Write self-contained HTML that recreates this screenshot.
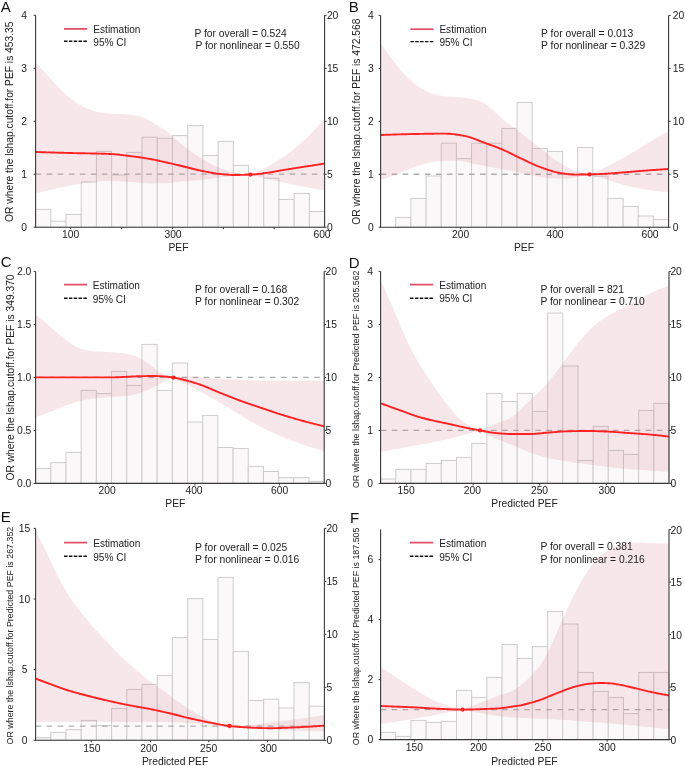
<!DOCTYPE html>
<html><head><meta charset="utf-8"><style>
html,body{margin:0;padding:0;background:#fff;}
svg{display:block;font-family:"Liberation Sans", sans-serif;filter:blur(0.4px);}
</style></head><body>
<svg width="685" height="766" viewBox="0 0 685 766">
<rect width="685" height="766" fill="#fff"/>
<g fill="#fbf8f9" stroke="#cdcdcd" stroke-width="1"><rect x="35.60" y="209.40" width="15.21" height="17.80"/><rect x="50.81" y="221.20" width="15.21" height="6.00"/><rect x="66.02" y="214.40" width="15.21" height="12.80"/><rect x="81.23" y="182.00" width="15.21" height="45.20"/><rect x="96.44" y="151.40" width="15.21" height="75.80"/><rect x="111.65" y="175.00" width="15.21" height="52.20"/><rect x="126.86" y="152.40" width="15.21" height="74.80"/><rect x="142.07" y="137.20" width="15.21" height="90.00"/><rect x="157.28" y="138.30" width="15.21" height="88.90"/><rect x="172.49" y="135.60" width="15.21" height="91.60"/><rect x="187.71" y="125.60" width="15.21" height="101.60"/><rect x="202.92" y="155.40" width="15.21" height="71.80"/><rect x="218.13" y="141.40" width="15.21" height="85.80"/><rect x="233.34" y="165.40" width="15.21" height="61.80"/><rect x="248.55" y="174.80" width="15.21" height="52.40"/><rect x="263.76" y="178.20" width="15.21" height="49.00"/><rect x="278.97" y="199.40" width="15.21" height="27.80"/><rect x="294.18" y="193.40" width="15.21" height="33.80"/><rect x="309.39" y="211.50" width="15.21" height="15.70"/></g>
<line x1="35.60" y1="174.22" x2="324.60" y2="174.22" stroke="#adadad" stroke-width="1.3" stroke-dasharray="5.6 5.45" stroke-dashoffset="0.00"/>
<path d="M35.60,62.40L36.60,63.47L37.60,64.55L38.60,65.63L39.60,66.70L40.60,67.78L41.59,68.86L42.59,69.94L43.59,71.03L44.59,72.11L45.59,73.20L46.59,74.28L47.59,75.37L48.59,76.46L49.59,77.56L50.59,78.66L51.59,79.77L52.58,80.89L53.58,82.02L54.58,83.15L55.58,84.27L56.58,85.37L57.58,86.46L58.58,87.51L59.58,88.54L60.58,89.54L61.58,90.52L62.57,91.48L63.57,92.42L64.57,93.34L65.57,94.24L66.57,95.13L67.57,95.98L68.57,96.82L69.57,97.63L70.57,98.43L71.57,99.21L72.57,99.97L73.56,100.72L74.56,101.45L75.56,102.16L76.56,102.84L77.56,103.50L78.56,104.12L79.56,104.72L80.56,105.28L81.56,105.82L82.56,106.34L83.56,106.85L84.55,107.33L85.55,107.79L86.55,108.23L87.55,108.65L88.55,109.04L89.55,109.42L90.55,109.78L91.55,110.12L92.55,110.45L93.55,110.77L94.55,111.07L95.54,111.36L96.54,111.63L97.54,111.87L98.54,112.09L99.54,112.29L100.54,112.47L101.54,112.64L102.54,112.79L103.54,112.93L104.54,113.06L105.53,113.19L106.53,113.30L107.53,113.40L108.53,113.48L109.53,113.56L110.53,113.62L111.53,113.67L112.53,113.72L113.53,113.76L114.53,113.80L115.53,113.83L116.52,113.87L117.52,113.90L118.52,113.94L119.52,113.98L120.52,114.03L121.52,114.07L122.52,114.12L123.52,114.17L124.52,114.22L125.52,114.28L126.52,114.34L127.51,114.41L128.51,114.48L129.51,114.57L130.51,114.68L131.51,114.80L132.51,114.94L133.51,115.11L134.51,115.29L135.51,115.50L136.51,115.72L137.51,115.96L138.50,116.22L139.50,116.49L140.50,116.79L141.50,117.11L142.50,117.48L143.50,117.88L144.50,118.31L145.50,118.77L146.50,119.24L147.50,119.74L148.49,120.24L149.49,120.75L150.49,121.28L151.49,121.82L152.49,122.38L153.49,122.96L154.49,123.56L155.49,124.17L156.49,124.79L157.49,125.42L158.49,126.05L159.48,126.67L160.48,127.29L161.48,127.91L162.48,128.53L163.48,129.16L164.48,129.80L165.48,130.47L166.48,131.17L167.48,131.91L168.48,132.69L169.48,133.52L170.47,134.38L171.47,135.27L172.47,136.19L173.47,137.12L174.47,138.05L175.47,138.98L176.47,139.90L177.47,140.80L178.47,141.68L179.47,142.53L180.47,143.36L181.46,144.16L182.46,144.96L183.46,145.74L184.46,146.53L185.46,147.30L186.46,148.07L187.46,148.83L188.46,149.58L189.46,150.32L190.46,151.06L191.45,151.78L192.45,152.49L193.45,153.20L194.45,153.89L195.45,154.56L196.45,155.23L197.45,155.88L198.45,156.52L199.45,157.15L200.45,157.77L201.45,158.37L202.44,158.98L203.44,159.58L204.44,160.17L205.44,160.76L206.44,161.35L207.44,161.92L208.44,162.48L209.44,163.04L210.44,163.58L211.44,164.11L212.44,164.63L213.43,165.13L214.43,165.62L215.43,166.08L216.43,166.53L217.43,166.96L218.43,167.38L219.43,167.77L220.43,168.15L221.43,168.51L222.43,168.87L223.43,169.22L224.42,169.57L225.42,169.91L226.42,170.24L227.42,170.57L228.42,170.88L229.42,171.19L230.42,171.48L231.42,171.76L232.42,172.03L233.42,172.29L234.41,172.53L235.41,172.76L236.41,172.97L237.41,173.16L238.41,173.34L239.41,173.50L240.41,173.64L241.41,173.78L242.41,173.91L243.41,174.03L244.41,174.14L245.40,174.24L246.40,174.34L247.40,174.42L248.40,174.49L249.40,174.55L250.40,174.60L250.40,174.60L251.39,174.21L252.38,173.82L253.37,173.42L254.36,173.02L255.35,172.60L256.34,172.17L257.33,171.73L258.31,171.28L259.30,170.82L260.29,170.35L261.28,169.86L262.27,169.37L263.26,168.86L264.25,168.34L265.24,167.82L266.23,167.28L267.22,166.74L268.21,166.19L269.20,165.63L270.19,165.06L271.18,164.48L272.17,163.89L273.15,163.30L274.14,162.69L275.13,162.09L276.12,161.47L277.11,160.85L278.10,160.22L279.09,159.58L280.08,158.94L281.07,158.29L282.06,157.63L283.05,156.96L284.04,156.28L285.03,155.59L286.02,154.89L287.01,154.19L287.99,153.47L288.98,152.74L289.97,152.01L290.96,151.26L291.95,150.50L292.94,149.74L293.93,148.96L294.92,148.18L295.91,147.38L296.90,146.58L297.89,145.76L298.88,144.94L299.87,144.10L300.86,143.24L301.85,142.37L302.83,141.49L303.82,140.58L304.81,139.65L305.80,138.71L306.79,137.76L307.78,136.78L308.77,135.80L309.76,134.80L310.75,133.78L311.74,132.76L312.73,131.72L313.72,130.66L314.71,129.59L315.70,128.50L316.69,127.39L317.67,126.27L318.66,125.13L319.65,123.98L320.64,122.81L321.63,121.63L322.62,120.43L323.61,119.22L324.60,118.00L324.60,190.20L323.61,190.07L322.62,189.93L321.63,189.80L320.64,189.66L319.65,189.52L318.66,189.37L317.67,189.23L316.69,189.08L315.70,188.93L314.71,188.77L313.72,188.61L312.73,188.45L311.74,188.29L310.75,188.12L309.76,187.95L308.77,187.78L307.78,187.61L306.79,187.42L305.80,187.24L304.81,187.05L303.82,186.86L302.83,186.67L301.85,186.47L300.86,186.27L299.87,186.07L298.88,185.86L297.89,185.66L296.90,185.45L295.91,185.25L294.92,185.04L293.93,184.83L292.94,184.62L291.95,184.41L290.96,184.20L289.97,183.99L288.98,183.79L287.99,183.58L287.01,183.37L286.02,183.16L285.03,182.95L284.04,182.74L283.05,182.53L282.06,182.31L281.07,182.10L280.08,181.88L279.09,181.67L278.10,181.45L277.11,181.23L276.12,181.01L275.13,180.78L274.14,180.56L273.15,180.33L272.17,180.10L271.18,179.87L270.19,179.64L269.20,179.41L268.21,179.17L267.22,178.93L266.23,178.69L265.24,178.45L264.25,178.21L263.26,177.96L262.27,177.71L261.28,177.46L260.29,177.21L259.30,176.96L258.31,176.70L257.33,176.44L256.34,176.19L255.35,175.93L254.36,175.66L253.37,175.40L252.38,175.13L251.39,174.87L250.40,174.60L250.40,174.60L249.40,174.67L248.40,174.74L247.40,174.81L246.40,174.88L245.40,174.96L244.41,175.03L243.41,175.11L242.41,175.20L241.41,175.28L240.41,175.37L239.41,175.46L238.41,175.55L237.41,175.64L236.41,175.74L235.41,175.84L234.41,175.95L233.42,176.05L232.42,176.16L231.42,176.27L230.42,176.38L229.42,176.49L228.42,176.61L227.42,176.72L226.42,176.84L225.42,176.96L224.42,177.07L223.43,177.19L222.43,177.31L221.43,177.43L220.43,177.55L219.43,177.67L218.43,177.80L217.43,177.93L216.43,178.06L215.43,178.19L214.43,178.33L213.43,178.47L212.44,178.61L211.44,178.75L210.44,178.89L209.44,179.03L208.44,179.17L207.44,179.30L206.44,179.44L205.44,179.57L204.44,179.69L203.44,179.81L202.44,179.93L201.45,180.04L200.45,180.15L199.45,180.25L198.45,180.34L197.45,180.43L196.45,180.52L195.45,180.60L194.45,180.68L193.45,180.76L192.45,180.84L191.45,180.91L190.46,180.98L189.46,181.05L188.46,181.13L187.46,181.20L186.46,181.27L185.46,181.35L184.46,181.43L183.46,181.51L182.46,181.59L181.46,181.67L180.47,181.77L179.47,181.86L178.47,181.97L177.47,182.09L176.47,182.22L175.47,182.35L174.47,182.48L173.47,182.61L172.47,182.74L171.47,182.85L170.47,182.96L169.48,183.04L168.48,183.11L167.48,183.17L166.48,183.20L165.48,183.23L164.48,183.25L163.48,183.27L162.48,183.29L161.48,183.30L160.48,183.32L159.48,183.33L158.49,183.35L157.49,183.36L156.49,183.37L155.49,183.38L154.49,183.38L153.49,183.39L152.49,183.39L151.49,183.40L150.49,183.39L149.49,183.39L148.49,183.37L147.50,183.34L146.50,183.30L145.50,183.25L144.50,183.20L143.50,183.13L142.50,183.05L141.50,182.97L140.50,182.89L139.50,182.80L138.50,182.71L137.51,182.61L136.51,182.52L135.51,182.43L134.51,182.34L133.51,182.26L132.51,182.18L131.51,182.11L130.51,182.04L129.51,181.97L128.51,181.91L127.51,181.84L126.52,181.78L125.52,181.71L124.52,181.65L123.52,181.58L122.52,181.52L121.52,181.45L120.52,181.39L119.52,181.33L118.52,181.27L117.52,181.22L116.52,181.17L115.53,181.13L114.53,181.09L113.53,181.06L112.53,181.04L111.53,181.02L110.53,181.01L109.53,181.01L108.53,181.02L107.53,181.04L106.53,181.07L105.53,181.11L104.54,181.16L103.54,181.21L102.54,181.28L101.54,181.35L100.54,181.42L99.54,181.50L98.54,181.58L97.54,181.67L96.54,181.76L95.54,181.86L94.55,181.95L93.55,182.05L92.55,182.15L91.55,182.25L90.55,182.35L89.55,182.45L88.55,182.56L87.55,182.68L86.55,182.80L85.55,182.93L84.55,183.07L83.56,183.22L82.56,183.37L81.56,183.53L80.56,183.69L79.56,183.86L78.56,184.03L77.56,184.21L76.56,184.39L75.56,184.57L74.56,184.75L73.56,184.94L72.57,185.12L71.57,185.31L70.57,185.50L69.57,185.69L68.57,185.88L67.57,186.08L66.57,186.28L65.57,186.49L64.57,186.71L63.57,186.92L62.57,187.15L61.58,187.37L60.58,187.60L59.58,187.83L58.58,188.06L57.58,188.29L56.58,188.52L55.58,188.75L54.58,188.98L53.58,189.21L52.58,189.43L51.59,189.65L50.59,189.87L49.59,190.09L48.59,190.30L47.59,190.51L46.59,190.72L45.59,190.93L44.59,191.14L43.59,191.35L42.59,191.56L41.59,191.77L40.60,191.98L39.60,192.18L38.60,192.39L37.60,192.59L36.60,192.80L35.60,193.00Z" fill="rgba(212,112,128,0.17)"/>
<path d="M35.60,152.00L36.60,152.03L37.60,152.06L38.60,152.09L39.60,152.12L40.60,152.15L41.60,152.18L42.60,152.21L43.60,152.24L44.60,152.27L45.60,152.30L46.60,152.33L47.60,152.36L48.60,152.39L49.60,152.42L50.60,152.45L51.60,152.48L52.60,152.51L53.60,152.54L54.60,152.57L55.60,152.60L56.60,152.63L57.60,152.66L58.60,152.68L59.60,152.71L60.60,152.74L61.60,152.77L62.60,152.80L63.60,152.82L64.60,152.85L65.60,152.88L66.60,152.91L67.60,152.93L68.60,152.96L69.60,152.99L70.60,153.02L71.60,153.04L72.60,153.07L73.60,153.09L74.60,153.11L75.60,153.14L76.60,153.16L77.60,153.18L78.60,153.20L79.60,153.22L80.60,153.24L81.60,153.26L82.60,153.28L83.60,153.30L84.60,153.32L85.60,153.34L86.60,153.35L87.60,153.37L88.60,153.39L89.60,153.41L90.60,153.43L91.60,153.45L92.60,153.47L93.60,153.50L94.60,153.52L95.60,153.54L96.60,153.57L97.60,153.59L98.60,153.62L99.60,153.64L100.60,153.67L101.60,153.70L102.60,153.73L103.60,153.76L104.60,153.80L105.60,153.83L106.60,153.87L107.60,153.90L108.60,153.94L109.60,153.99L110.60,154.04L111.60,154.09L112.60,154.15L113.60,154.22L114.60,154.30L115.60,154.38L116.60,154.47L117.60,154.56L118.60,154.66L119.60,154.77L120.60,154.88L121.60,154.99L122.60,155.11L123.60,155.22L124.60,155.34L125.60,155.46L126.60,155.59L127.60,155.71L128.60,155.83L129.60,155.95L130.60,156.08L131.60,156.20L132.60,156.33L133.60,156.46L134.60,156.59L135.60,156.73L136.60,156.87L137.60,157.01L138.60,157.15L139.60,157.30L140.60,157.45L141.60,157.61L142.60,157.76L143.60,157.92L144.60,158.08L145.60,158.25L146.60,158.42L147.60,158.59L148.60,158.76L149.60,158.93L150.60,159.11L151.60,159.30L152.60,159.49L153.60,159.68L154.60,159.88L155.60,160.09L156.60,160.30L157.60,160.51L158.60,160.73L159.60,160.95L160.60,161.17L161.60,161.39L162.60,161.62L163.60,161.84L164.60,162.06L165.60,162.29L166.60,162.51L167.60,162.73L168.60,162.96L169.60,163.18L170.60,163.41L171.60,163.64L172.60,163.87L173.60,164.10L174.60,164.33L175.60,164.56L176.60,164.80L177.60,165.03L178.60,165.27L179.60,165.51L180.60,165.75L181.60,165.99L182.60,166.24L183.60,166.49L184.60,166.74L185.60,167.00L186.60,167.25L187.60,167.51L188.60,167.77L189.60,168.03L190.60,168.28L191.60,168.54L192.60,168.79L193.60,169.04L194.60,169.28L195.60,169.52L196.60,169.75L197.60,169.98L198.60,170.20L199.60,170.41L200.60,170.62L201.60,170.83L202.60,171.03L203.60,171.24L204.60,171.44L205.60,171.65L206.60,171.85L207.60,172.05L208.60,172.24L209.60,172.43L210.60,172.62L211.60,172.80L212.60,172.97L213.60,173.14L214.60,173.30L215.60,173.45L216.60,173.59L217.60,173.72L218.60,173.84L219.60,173.95L220.60,174.06L221.60,174.16L222.60,174.26L223.60,174.36L224.60,174.45L225.60,174.55L226.60,174.63L227.60,174.71L228.60,174.78L229.60,174.85L230.60,174.90L231.60,174.94L232.60,174.97L233.60,174.99L234.60,174.99L235.60,174.99L236.60,174.98L237.60,174.97L238.60,174.96L239.60,174.94L240.60,174.92L241.60,174.89L242.60,174.87L243.60,174.84L244.60,174.81L245.60,174.78L246.60,174.74L247.60,174.71L248.60,174.67L249.60,174.63L250.60,174.58L251.60,174.53L252.60,174.47L253.60,174.41L254.60,174.33L255.60,174.24L256.60,174.15L257.60,174.04L258.60,173.93L259.60,173.82L260.60,173.70L261.60,173.57L262.60,173.44L263.60,173.30L264.60,173.17L265.60,173.03L266.60,172.88L267.60,172.74L268.60,172.60L269.60,172.45L270.60,172.30L271.60,172.14L272.60,171.97L273.60,171.79L274.60,171.61L275.60,171.42L276.60,171.23L277.60,171.04L278.60,170.86L279.60,170.68L280.60,170.50L281.60,170.33L282.60,170.16L283.60,170.00L284.60,169.83L285.60,169.67L286.60,169.51L287.60,169.35L288.60,169.19L289.60,169.03L290.60,168.87L291.60,168.72L292.60,168.56L293.60,168.40L294.60,168.25L295.60,168.09L296.60,167.93L297.60,167.78L298.60,167.62L299.60,167.46L300.60,167.31L301.60,167.15L302.60,166.99L303.60,166.84L304.60,166.68L305.60,166.52L306.60,166.37L307.60,166.21L308.60,166.06L309.60,165.90L310.60,165.75L311.60,165.59L312.60,165.44L313.60,165.28L314.60,165.13L315.60,164.97L316.60,164.82L317.60,164.67L318.60,164.51L319.60,164.36L320.60,164.21L321.60,164.06L322.60,163.90L323.60,163.75L324.60,163.60" fill="none" stroke="#ff2222" stroke-width="1.90" stroke-linejoin="round"/>
<circle cx="250.40" cy="174.60" r="2.15" fill="#ff2222"/>
<path d="M35.60,15.30 V227.20 H324.60 V15.30" fill="none" stroke="#3a3a3a" stroke-width="1.1"/>
<g stroke="#3a3a3a" stroke-width="1"><line x1="33.60" y1="227.20" x2="35.60" y2="227.20"/><line x1="33.60" y1="174.22" x2="35.60" y2="174.22"/><line x1="33.60" y1="121.25" x2="35.60" y2="121.25"/><line x1="33.60" y1="68.28" x2="35.60" y2="68.28"/><line x1="33.60" y1="15.30" x2="35.60" y2="15.30"/><line x1="324.60" y1="227.20" x2="326.60" y2="227.20"/><line x1="324.60" y1="174.22" x2="326.60" y2="174.22"/><line x1="324.60" y1="121.25" x2="326.60" y2="121.25"/><line x1="324.60" y1="68.28" x2="326.60" y2="68.28"/><line x1="324.60" y1="15.30" x2="326.60" y2="15.30"/><line x1="70.70" y1="227.20" x2="70.70" y2="229.20"/><line x1="121.70" y1="227.20" x2="121.70" y2="229.20"/><line x1="172.60" y1="227.20" x2="172.60" y2="229.20"/><line x1="223.40" y1="227.20" x2="223.40" y2="229.20"/><line x1="274.20" y1="227.20" x2="274.20" y2="229.20"/></g>
<g fill="#222222" font-size="10.30"><text x="24.10" y="230.90" text-anchor="middle">0</text><text x="24.10" y="177.92" text-anchor="middle">1</text><text x="24.10" y="124.95" text-anchor="middle">2</text><text x="24.10" y="71.98" text-anchor="middle">3</text><text x="24.10" y="19.00" text-anchor="middle">4</text><text x="326.90" y="231.20">0</text><text x="326.90" y="178.22">5</text><text x="326.90" y="125.25">10</text><text x="326.90" y="72.28">15</text><text x="326.90" y="19.30">20</text><text x="70.70" y="237.60" text-anchor="middle">100</text><text x="173.00" y="237.60" text-anchor="middle">300</text><text x="322.00" y="237.60" text-anchor="middle">600</text><text x="178.50" y="251.20" text-anchor="middle">PEF</text><line x1="64.00" y1="28.90" x2="87.20" y2="28.90" stroke="#e04e68" stroke-width="1.75"/><line x1="64.00" y1="41.30" x2="87.20" y2="41.30" stroke="#111" stroke-width="1.4" stroke-dasharray="3.5 1.35"/><text x="93.30" y="33.30" font-size="10.1">Estimation</text><text x="93.30" y="45.70" font-size="10.1">95% CI</text><text x="194.40" y="36.70">P for overall = 0.524</text><text x="195.40" y="49.30">P for nonlinear = 0.550</text></g>
<text transform="translate(13.00,121.70) rotate(-90)" text-anchor="middle" font-size="10.25" fill="#222222">OR where the lshap.cutoff.for PEF is 453.35</text>
<text x="0.80" y="11.90" font-size="15" fill="#111">A</text>
<g fill="#fbf8f9" stroke="#cdcdcd" stroke-width="1"><rect x="395.76" y="217.40" width="15.16" height="9.80"/><rect x="410.92" y="198.40" width="15.16" height="28.80"/><rect x="426.07" y="176.00" width="15.16" height="51.20"/><rect x="441.23" y="143.20" width="15.16" height="84.00"/><rect x="456.39" y="158.60" width="15.16" height="68.60"/><rect x="471.55" y="143.20" width="15.16" height="84.00"/><rect x="486.71" y="143.20" width="15.16" height="84.00"/><rect x="501.86" y="128.40" width="15.16" height="98.80"/><rect x="517.02" y="102.40" width="15.16" height="124.80"/><rect x="532.18" y="148.40" width="15.16" height="78.80"/><rect x="547.34" y="151.40" width="15.16" height="75.80"/><rect x="562.49" y="174.20" width="15.16" height="53.00"/><rect x="577.65" y="147.40" width="15.16" height="79.80"/><rect x="592.81" y="176.20" width="15.16" height="51.00"/><rect x="607.97" y="198.40" width="15.16" height="28.80"/><rect x="623.13" y="206.40" width="15.16" height="20.80"/><rect x="638.28" y="216.00" width="15.16" height="11.20"/><rect x="653.44" y="219.40" width="15.16" height="7.80"/></g>
<line x1="380.60" y1="174.25" x2="668.60" y2="174.25" stroke="#adadad" stroke-width="1.3" stroke-dasharray="5.6 5.45" stroke-dashoffset="0.00"/>
<path d="M380.60,43.00L381.60,44.48L382.60,45.95L383.60,47.41L384.60,48.85L385.60,50.28L386.59,51.69L387.59,53.09L388.59,54.47L389.59,55.84L390.59,57.19L391.59,58.53L392.59,59.85L393.59,61.16L394.59,62.46L395.59,63.74L396.58,65.02L397.58,66.29L398.58,67.54L399.58,68.78L400.58,69.99L401.58,71.17L402.58,72.33L403.58,73.44L404.58,74.52L405.58,75.56L406.58,76.56L407.57,77.54L408.57,78.50L409.57,79.42L410.57,80.32L411.57,81.20L412.57,82.04L413.57,82.85L414.57,83.64L415.57,84.40L416.57,85.15L417.56,85.87L418.56,86.57L419.56,87.25L420.56,87.91L421.56,88.54L422.56,89.14L423.56,89.71L424.56,90.24L425.56,90.76L426.56,91.24L427.56,91.72L428.55,92.17L429.55,92.61L430.55,93.02L431.55,93.40L432.55,93.75L433.55,94.07L434.55,94.35L435.55,94.60L436.55,94.83L437.55,95.04L438.54,95.24L439.54,95.42L440.54,95.59L441.54,95.74L442.54,95.89L443.54,96.02L444.54,96.14L445.54,96.25L446.54,96.34L447.54,96.44L448.53,96.52L449.53,96.60L450.53,96.67L451.53,96.74L452.53,96.82L453.53,96.89L454.53,96.96L455.53,97.04L456.53,97.11L457.53,97.19L458.53,97.26L459.52,97.33L460.52,97.41L461.52,97.49L462.52,97.57L463.52,97.66L464.52,97.76L465.52,97.87L466.52,97.99L467.52,98.12L468.52,98.27L469.51,98.42L470.51,98.59L471.51,98.77L472.51,98.97L473.51,99.18L474.51,99.41L475.51,99.66L476.51,99.94L477.51,100.24L478.51,100.58L479.51,100.96L480.50,101.36L481.50,101.79L482.50,102.26L483.50,102.75L484.50,103.29L485.50,103.88L486.50,104.53L487.50,105.26L488.50,106.07L489.50,106.92L490.49,107.82L491.49,108.75L492.49,109.68L493.49,110.61L494.49,111.53L495.49,112.43L496.49,113.34L497.49,114.24L498.49,115.16L499.49,116.08L500.49,116.99L501.48,117.90L502.48,118.80L503.48,119.68L504.48,120.54L505.48,121.38L506.48,122.19L507.48,123.00L508.48,123.79L509.48,124.56L510.48,125.33L511.47,126.09L512.47,126.84L513.47,127.59L514.47,128.34L515.47,129.08L516.47,129.83L517.47,130.58L518.47,131.34L519.47,132.10L520.47,132.86L521.47,133.63L522.46,134.41L523.46,135.18L524.46,135.96L525.46,136.73L526.46,137.51L527.46,138.29L528.46,139.07L529.46,139.85L530.46,140.63L531.46,141.40L532.45,142.18L533.45,142.96L534.45,143.73L535.45,144.50L536.45,145.28L537.45,146.04L538.45,146.81L539.45,147.58L540.45,148.35L541.45,149.12L542.44,149.91L543.44,150.69L544.44,151.49L545.44,152.29L546.44,153.09L547.44,153.88L548.44,154.68L549.44,155.47L550.44,156.25L551.44,157.03L552.44,157.79L553.43,158.54L554.43,159.27L555.43,159.99L556.43,160.68L557.43,161.35L558.43,162.00L559.43,162.63L560.43,163.24L561.43,163.83L562.43,164.41L563.42,164.98L564.42,165.54L565.42,166.09L566.42,166.63L567.42,167.15L568.42,167.65L569.42,168.14L570.42,168.61L571.42,169.06L572.42,169.48L573.42,169.88L574.41,170.27L575.41,170.63L576.41,170.98L577.41,171.31L578.41,171.64L579.41,171.96L580.41,172.26L581.41,172.56L582.41,172.84L583.41,173.11L584.40,173.36L585.40,173.60L586.40,173.82L587.40,174.03L588.40,174.22L589.40,174.40L589.40,174.40L590.39,173.99L591.38,173.58L592.37,173.17L593.36,172.75L594.35,172.33L595.34,171.90L596.33,171.46L597.32,171.03L598.31,170.58L599.30,170.13L600.29,169.68L601.28,169.22L602.27,168.76L603.26,168.29L604.25,167.82L605.24,167.35L606.23,166.86L607.22,166.38L608.21,165.89L609.20,165.39L610.19,164.89L611.18,164.38L612.17,163.86L613.16,163.33L614.15,162.80L615.14,162.27L616.13,161.73L617.12,161.18L618.11,160.63L619.10,160.08L620.09,159.52L621.08,158.96L622.07,158.40L623.06,157.83L624.05,157.27L625.04,156.70L626.03,156.13L627.02,155.56L628.01,154.99L629.00,154.42L629.99,153.84L630.98,153.26L631.97,152.67L632.96,152.09L633.95,151.49L634.94,150.90L635.93,150.30L636.92,149.70L637.91,149.10L638.90,148.49L639.89,147.89L640.88,147.29L641.87,146.69L642.86,146.09L643.85,145.49L644.84,144.89L645.83,144.30L646.82,143.70L647.81,143.12L648.80,142.53L649.79,141.94L650.78,141.36L651.77,140.78L652.76,140.20L653.75,139.62L654.74,139.04L655.73,138.46L656.72,137.88L657.71,137.30L658.70,136.72L659.69,136.15L660.68,135.57L661.67,135.00L662.66,134.42L663.65,133.85L664.64,133.28L665.63,132.71L666.62,132.14L667.61,131.57L668.60,131.00L668.60,192.00L667.61,191.95L666.62,191.89L665.63,191.83L664.64,191.76L663.65,191.69L662.66,191.62L661.67,191.53L660.68,191.45L659.69,191.35L658.70,191.26L657.71,191.16L656.72,191.05L655.73,190.94L654.74,190.83L653.75,190.72L652.76,190.60L651.77,190.48L650.78,190.35L649.79,190.23L648.80,190.10L647.81,189.97L646.82,189.83L645.83,189.68L644.84,189.53L643.85,189.37L642.86,189.20L641.87,189.02L640.88,188.84L639.89,188.65L638.90,188.45L637.91,188.25L636.92,188.04L635.93,187.83L634.94,187.61L633.95,187.39L632.96,187.16L631.97,186.94L630.98,186.71L629.99,186.47L629.00,186.24L628.01,186.00L627.02,185.75L626.03,185.49L625.04,185.23L624.05,184.96L623.06,184.68L622.07,184.39L621.08,184.10L620.09,183.80L619.10,183.49L618.11,183.18L617.12,182.87L616.13,182.56L615.14,182.24L614.15,181.93L613.16,181.61L612.17,181.30L611.18,180.98L610.19,180.67L609.20,180.37L608.21,180.07L607.22,179.77L606.23,179.47L605.24,179.17L604.25,178.87L603.26,178.57L602.27,178.28L601.28,177.98L600.29,177.68L599.30,177.38L598.31,177.08L597.32,176.79L596.33,176.49L595.34,176.19L594.35,175.89L593.36,175.59L592.37,175.30L591.38,175.00L590.39,174.70L589.40,174.40L589.40,174.40L588.40,174.63L587.40,174.86L586.40,175.08L585.40,175.30L584.40,175.51L583.41,175.72L582.41,175.93L581.41,176.13L580.41,176.32L579.41,176.52L578.41,176.72L577.41,176.92L576.41,177.13L575.41,177.34L574.41,177.55L573.42,177.75L572.42,177.95L571.42,178.13L570.42,178.30L569.42,178.44L568.42,178.56L567.42,178.66L566.42,178.73L565.42,178.77L564.42,178.78L563.42,178.78L562.43,178.77L561.43,178.75L560.43,178.72L559.43,178.69L558.43,178.65L557.43,178.61L556.43,178.56L555.43,178.51L554.43,178.46L553.43,178.40L552.44,178.35L551.44,178.29L550.44,178.22L549.44,178.15L548.44,178.07L547.44,177.97L546.44,177.86L545.44,177.74L544.44,177.61L543.44,177.47L542.44,177.31L541.45,177.15L540.45,176.98L539.45,176.81L538.45,176.62L537.45,176.44L536.45,176.25L535.45,176.05L534.45,175.86L533.45,175.66L532.45,175.47L531.46,175.28L530.46,175.08L529.46,174.89L528.46,174.69L527.46,174.49L526.46,174.27L525.46,174.05L524.46,173.83L523.46,173.60L522.46,173.37L521.47,173.13L520.47,172.90L519.47,172.66L518.47,172.42L517.47,172.19L516.47,171.96L515.47,171.74L514.47,171.52L513.47,171.31L512.47,171.10L511.47,170.90L510.48,170.71L509.48,170.53L508.48,170.34L507.48,170.17L506.48,169.99L505.48,169.82L504.48,169.65L503.48,169.48L502.48,169.31L501.48,169.14L500.49,168.97L499.49,168.80L498.49,168.62L497.49,168.45L496.49,168.27L495.49,168.09L494.49,167.90L493.49,167.71L492.49,167.52L491.49,167.32L490.49,167.12L489.50,166.92L488.50,166.71L487.50,166.51L486.50,166.30L485.50,166.09L484.50,165.89L483.50,165.68L482.50,165.48L481.50,165.27L480.50,165.07L479.51,164.87L478.51,164.67L477.51,164.48L476.51,164.28L475.51,164.09L474.51,163.90L473.51,163.70L472.51,163.50L471.51,163.28L470.51,163.06L469.51,162.84L468.52,162.62L467.52,162.39L466.52,162.17L465.52,161.96L464.52,161.75L463.52,161.56L462.52,161.37L461.52,161.21L460.52,161.05L459.52,160.92L458.53,160.81L457.53,160.73L456.53,160.67L455.53,160.63L454.53,160.62L453.53,160.62L452.53,160.63L451.53,160.64L450.53,160.67L449.53,160.70L448.53,160.73L447.54,160.77L446.54,160.82L445.54,160.87L444.54,160.92L443.54,160.98L442.54,161.04L441.54,161.10L440.54,161.17L439.54,161.24L438.54,161.32L437.55,161.40L436.55,161.48L435.55,161.57L434.55,161.67L433.55,161.78L432.55,161.93L431.55,162.09L430.55,162.29L429.55,162.50L428.55,162.74L427.56,162.99L426.56,163.27L425.56,163.55L424.56,163.85L423.56,164.16L422.56,164.48L421.56,164.81L420.56,165.14L419.56,165.48L418.56,165.81L417.56,166.15L416.57,166.48L415.57,166.82L414.57,167.15L413.57,167.50L412.57,167.85L411.57,168.22L410.57,168.60L409.57,168.99L408.57,169.39L407.57,169.80L406.58,170.22L405.58,170.64L404.58,171.06L403.58,171.49L402.58,171.92L401.58,172.34L400.58,172.76L399.58,173.18L398.58,173.59L397.58,173.99L396.58,174.39L395.59,174.77L394.59,175.15L393.59,175.52L392.59,175.88L391.59,176.24L390.59,176.60L389.59,176.95L388.59,177.30L387.59,177.65L386.59,177.99L385.60,178.34L384.60,178.67L383.60,179.01L382.60,179.34L381.60,179.67L380.60,180.00Z" fill="rgba(212,112,128,0.17)"/>
<path d="M380.60,135.00L381.60,134.96L382.60,134.93L383.60,134.89L384.60,134.85L385.60,134.82L386.60,134.78L387.60,134.75L388.60,134.71L389.60,134.68L390.60,134.64L391.60,134.61L392.60,134.58L393.60,134.55L394.60,134.52L395.60,134.48L396.60,134.45L397.60,134.42L398.60,134.39L399.60,134.36L400.60,134.34L401.60,134.31L402.60,134.28L403.60,134.26L404.60,134.23L405.60,134.20L406.60,134.18L407.60,134.16L408.60,134.13L409.60,134.11L410.60,134.09L411.60,134.07L412.60,134.05L413.60,134.03L414.60,134.01L415.60,133.99L416.60,133.97L417.60,133.95L418.60,133.93L419.60,133.91L420.60,133.90L421.60,133.88L422.60,133.86L423.60,133.84L424.60,133.82L425.60,133.81L426.60,133.79L427.60,133.77L428.60,133.75L429.60,133.74L430.60,133.72L431.60,133.71L432.60,133.69L433.60,133.68L434.60,133.67L435.60,133.66L436.60,133.65L437.60,133.64L438.60,133.63L439.60,133.62L440.60,133.61L441.60,133.61L442.60,133.61L443.60,133.60L444.60,133.61L445.60,133.62L446.60,133.64L447.60,133.68L448.60,133.73L449.60,133.79L450.60,133.87L451.60,133.96L452.60,134.07L453.60,134.18L454.60,134.31L455.60,134.45L456.60,134.59L457.60,134.74L458.60,134.90L459.60,135.06L460.60,135.23L461.60,135.40L462.60,135.58L463.60,135.75L464.60,135.94L465.60,136.14L466.60,136.36L467.60,136.60L468.60,136.87L469.60,137.16L470.60,137.48L471.60,137.81L472.60,138.16L473.60,138.53L474.60,138.91L475.60,139.29L476.60,139.69L477.60,140.09L478.60,140.50L479.60,140.90L480.60,141.30L481.60,141.70L482.60,142.09L483.60,142.47L484.60,142.84L485.60,143.21L486.60,143.57L487.60,143.92L488.60,144.27L489.60,144.63L490.60,144.98L491.60,145.33L492.60,145.69L493.60,146.05L494.60,146.42L495.60,146.79L496.60,147.17L497.60,147.55L498.60,147.95L499.60,148.35L500.60,148.76L501.60,149.19L502.60,149.63L503.60,150.07L504.60,150.53L505.60,151.00L506.60,151.47L507.60,151.95L508.60,152.44L509.60,152.93L510.60,153.42L511.60,153.92L512.60,154.41L513.60,154.91L514.60,155.40L515.60,155.89L516.60,156.38L517.60,156.86L518.60,157.34L519.60,157.81L520.60,158.28L521.60,158.75L522.60,159.22L523.60,159.70L524.60,160.18L525.60,160.66L526.60,161.14L527.60,161.61L528.60,162.09L529.60,162.56L530.60,163.03L531.60,163.49L532.60,163.95L533.60,164.39L534.60,164.83L535.60,165.26L536.60,165.67L537.60,166.08L538.60,166.46L539.60,166.84L540.60,167.21L541.60,167.58L542.60,167.94L543.60,168.30L544.60,168.66L545.60,169.01L546.60,169.36L547.60,169.71L548.60,170.05L549.60,170.37L550.60,170.69L551.60,171.00L552.60,171.30L553.60,171.58L554.60,171.85L555.60,172.10L556.60,172.33L557.60,172.54L558.60,172.74L559.60,172.92L560.60,173.09L561.60,173.24L562.60,173.40L563.60,173.55L564.60,173.69L565.60,173.83L566.60,173.97L567.60,174.09L568.60,174.20L569.60,174.30L570.60,174.39L571.60,174.46L572.60,174.52L573.60,174.56L574.60,174.58L575.60,174.59L576.60,174.59L577.60,174.59L578.60,174.58L579.60,174.57L580.60,174.56L581.60,174.54L582.60,174.53L583.60,174.51L584.60,174.49L585.60,174.48L586.60,174.46L587.60,174.44L588.60,174.42L589.60,174.39L590.60,174.37L591.60,174.34L592.60,174.31L593.60,174.28L594.60,174.25L595.60,174.21L596.60,174.17L597.60,174.13L598.60,174.08L599.60,174.04L600.60,173.99L601.60,173.94L602.60,173.89L603.60,173.84L604.60,173.79L605.60,173.73L606.60,173.68L607.60,173.62L608.60,173.56L609.60,173.50L610.60,173.44L611.60,173.37L612.60,173.29L613.60,173.22L614.60,173.14L615.60,173.06L616.60,172.98L617.60,172.89L618.60,172.81L619.60,172.72L620.60,172.63L621.60,172.55L622.60,172.46L623.60,172.37L624.60,172.28L625.60,172.20L626.60,172.12L627.60,172.03L628.60,171.95L629.60,171.87L630.60,171.79L631.60,171.71L632.60,171.63L633.60,171.54L634.60,171.46L635.60,171.38L636.60,171.30L637.60,171.22L638.60,171.14L639.60,171.05L640.60,170.97L641.60,170.89L642.60,170.81L643.60,170.74L644.60,170.66L645.60,170.58L646.60,170.51L647.60,170.43L648.60,170.36L649.60,170.28L650.60,170.21L651.60,170.14L652.60,170.07L653.60,170.00L654.60,169.93L655.60,169.86L656.60,169.79L657.60,169.72L658.60,169.65L659.60,169.58L660.60,169.52L661.60,169.45L662.60,169.38L663.60,169.32L664.60,169.25L665.60,169.19L666.60,169.13L667.60,169.06L668.60,169.00" fill="none" stroke="#ff2222" stroke-width="1.90" stroke-linejoin="round"/>
<circle cx="589.40" cy="174.40" r="2.15" fill="#ff2222"/>
<path d="M380.60,15.40 V227.20 H668.60 V15.40" fill="none" stroke="#3a3a3a" stroke-width="1.1"/>
<g stroke="#3a3a3a" stroke-width="1"><line x1="378.60" y1="227.20" x2="380.60" y2="227.20"/><line x1="378.60" y1="174.25" x2="380.60" y2="174.25"/><line x1="378.60" y1="121.30" x2="380.60" y2="121.30"/><line x1="378.60" y1="68.35" x2="380.60" y2="68.35"/><line x1="378.60" y1="15.40" x2="380.60" y2="15.40"/><line x1="668.60" y1="227.20" x2="670.60" y2="227.20"/><line x1="668.60" y1="174.25" x2="670.60" y2="174.25"/><line x1="668.60" y1="121.30" x2="670.60" y2="121.30"/><line x1="668.60" y1="68.35" x2="670.60" y2="68.35"/><line x1="668.60" y1="15.40" x2="670.60" y2="15.40"/><line x1="460.60" y1="227.20" x2="460.60" y2="229.20"/><line x1="555.00" y1="227.20" x2="555.00" y2="229.20"/><line x1="649.40" y1="227.20" x2="649.40" y2="229.20"/></g>
<g fill="#222222" font-size="10.30"><text x="370.80" y="230.90" text-anchor="middle">0</text><text x="370.80" y="177.95" text-anchor="middle">1</text><text x="370.80" y="125.00" text-anchor="middle">2</text><text x="370.80" y="72.05" text-anchor="middle">3</text><text x="370.80" y="19.10" text-anchor="middle">4</text><text x="672.70" y="231.20">0</text><text x="672.70" y="178.25">5</text><text x="672.70" y="125.30">10</text><text x="672.70" y="72.35">15</text><text x="672.70" y="19.40">20</text><text x="460.60" y="237.60" text-anchor="middle">200</text><text x="555.00" y="237.60" text-anchor="middle">400</text><text x="650.00" y="237.60" text-anchor="middle">600</text><text x="524.00" y="251.20" text-anchor="middle">PEF</text><line x1="410.40" y1="29.20" x2="433.60" y2="29.20" stroke="#e04e68" stroke-width="1.75"/><line x1="410.40" y1="41.60" x2="433.60" y2="41.60" stroke="#111" stroke-width="1.4" stroke-dasharray="3.5 1.35"/><text x="439.40" y="33.10" font-size="10.1">Estimation</text><text x="439.40" y="46.00" font-size="10.1">95% CI</text><text x="541.00" y="36.70">P for overall = 0.013</text><text x="541.00" y="49.10">P for nonlinear = 0.329</text></g>
<text transform="translate(360.20,121.70) rotate(-90)" text-anchor="middle" font-size="10.25" fill="#222222">OR where the lshap.cutoff.for PEF is 472.568</text>
<text x="348.80" y="12.20" font-size="15" fill="#111">B</text>
<g fill="#fbf8f9" stroke="#cdcdcd" stroke-width="1"><rect x="35.60" y="468.60" width="15.19" height="14.80"/><rect x="50.79" y="462.60" width="15.19" height="20.80"/><rect x="65.98" y="452.40" width="15.19" height="31.00"/><rect x="81.17" y="390.40" width="15.19" height="93.00"/><rect x="96.36" y="393.60" width="15.19" height="89.80"/><rect x="111.55" y="371.40" width="15.19" height="112.00"/><rect x="126.74" y="385.40" width="15.19" height="98.00"/><rect x="141.93" y="344.40" width="15.19" height="139.00"/><rect x="157.12" y="390.40" width="15.19" height="93.00"/><rect x="172.31" y="363.00" width="15.19" height="120.40"/><rect x="187.49" y="422.00" width="15.19" height="61.40"/><rect x="202.68" y="415.40" width="15.19" height="68.00"/><rect x="217.87" y="447.50" width="15.19" height="35.90"/><rect x="233.06" y="448.50" width="15.19" height="34.90"/><rect x="248.25" y="466.40" width="15.19" height="17.00"/><rect x="263.44" y="471.50" width="15.19" height="11.90"/><rect x="278.63" y="477.60" width="15.19" height="5.80"/><rect x="293.82" y="477.60" width="15.19" height="5.80"/><rect x="309.01" y="481.40" width="15.19" height="2.00"/></g>
<line x1="35.60" y1="377.40" x2="324.20" y2="377.40" stroke="#adadad" stroke-width="1.3" stroke-dasharray="5.6 5.45" stroke-dashoffset="-2.35"/>
<path d="M35.60,314.40L36.60,315.23L37.60,316.06L38.60,316.90L39.59,317.73L40.59,318.57L41.59,319.41L42.59,320.24L43.59,321.08L44.59,321.92L45.59,322.77L46.58,323.61L47.58,324.45L48.58,325.30L49.58,326.15L50.58,327.01L51.58,327.88L52.58,328.75L53.57,329.64L54.57,330.53L55.57,331.43L56.57,332.32L57.57,333.20L58.57,334.07L59.57,334.93L60.56,335.77L61.56,336.59L62.56,337.38L63.56,338.15L64.56,338.91L65.56,339.65L66.56,340.39L67.55,341.13L68.55,341.86L69.55,342.59L70.55,343.29L71.55,343.98L72.55,344.64L73.54,345.27L74.54,345.86L75.54,346.41L76.54,346.92L77.54,347.38L78.54,347.78L79.54,348.16L80.53,348.50L81.53,348.82L82.53,349.13L83.53,349.43L84.53,349.71L85.53,349.97L86.53,350.22L87.52,350.44L88.52,350.65L89.52,350.83L90.52,350.99L91.52,351.12L92.52,351.23L93.52,351.32L94.51,351.40L95.51,351.46L96.51,351.52L97.51,351.57L98.51,351.61L99.51,351.65L100.51,351.69L101.50,351.73L102.50,351.76L103.50,351.80L104.50,351.84L105.50,351.88L106.50,351.93L107.50,351.98L108.49,352.03L109.49,352.08L110.49,352.14L111.49,352.20L112.49,352.26L113.49,352.32L114.49,352.38L115.48,352.45L116.48,352.52L117.48,352.59L118.48,352.67L119.48,352.76L120.48,352.85L121.48,352.96L122.47,353.07L123.47,353.21L124.47,353.35L125.47,353.52L126.47,353.71L127.47,353.91L128.47,354.13L129.46,354.36L130.46,354.61L131.46,354.88L132.46,355.16L133.46,355.47L134.46,355.81L135.46,356.19L136.45,356.59L137.45,357.02L138.45,357.48L139.45,357.96L140.45,358.48L141.45,359.05L142.44,359.66L143.44,360.31L144.44,360.99L145.44,361.70L146.44,362.42L147.44,363.15L148.44,363.88L149.43,364.60L150.43,365.32L151.43,366.04L152.43,366.78L153.43,367.52L154.43,368.26L155.43,368.99L156.42,369.70L157.42,370.39L158.42,371.03L159.42,371.63L160.42,372.19L161.42,372.72L162.42,373.23L163.41,373.73L164.41,374.21L165.41,374.67L166.41,375.11L167.41,375.53L168.41,375.94L169.41,376.31L170.40,376.67L171.40,377.00L172.40,377.31L173.40,377.60L173.40,377.60L174.40,377.43L175.40,377.26L176.40,377.11L177.39,376.97L178.39,376.86L179.39,376.77L180.39,376.69L181.39,376.64L182.39,376.59L183.39,376.55L184.39,376.51L185.38,376.48L186.38,376.45L187.38,376.43L188.38,376.42L189.38,376.41L190.38,376.41L191.38,376.43L192.37,376.45L193.37,376.49L194.37,376.54L195.37,376.59L196.37,376.65L197.37,376.72L198.37,376.79L199.37,376.86L200.36,376.94L201.36,377.03L202.36,377.14L203.36,377.26L204.36,377.38L205.36,377.52L206.36,377.65L207.35,377.78L208.35,377.90L209.35,378.02L210.35,378.13L211.35,378.23L212.35,378.32L213.35,378.42L214.35,378.50L215.34,378.59L216.34,378.68L217.34,378.76L218.34,378.84L219.34,378.91L220.34,378.98L221.34,379.05L222.34,379.12L223.33,379.18L224.33,379.25L225.33,379.31L226.33,379.37L227.33,379.43L228.33,379.48L229.33,379.53L230.32,379.59L231.32,379.64L232.32,379.68L233.32,379.73L234.32,379.77L235.32,379.81L236.32,379.85L237.32,379.89L238.31,379.93L239.31,379.97L240.31,380.00L241.31,380.04L242.31,380.07L243.31,380.11L244.31,380.14L245.30,380.17L246.30,380.20L247.30,380.23L248.30,380.26L249.30,380.29L250.30,380.31L251.30,380.33L252.30,380.35L253.29,380.37L254.29,380.39L255.29,380.40L256.29,380.42L257.29,380.43L258.29,380.44L259.29,380.45L260.28,380.47L261.28,380.48L262.28,380.49L263.28,380.50L264.28,380.51L265.28,380.52L266.28,380.53L267.28,380.54L268.27,380.55L269.27,380.55L270.27,380.56L271.27,380.57L272.27,380.58L273.27,380.58L274.27,380.59L275.26,380.59L276.26,380.59L277.26,380.60L278.26,380.60L279.26,380.60L280.26,380.60L281.26,380.60L282.26,380.60L283.25,380.60L284.25,380.60L285.25,380.60L286.25,380.60L287.25,380.60L288.25,380.60L289.25,380.60L290.25,380.60L291.24,380.60L292.24,380.60L293.24,380.60L294.24,380.60L295.24,380.60L296.24,380.59L297.24,380.59L298.23,380.59L299.23,380.59L300.23,380.59L301.23,380.59L302.23,380.59L303.23,380.59L304.23,380.58L305.23,380.58L306.22,380.58L307.22,380.58L308.22,380.57L309.22,380.57L310.22,380.57L311.22,380.56L312.22,380.56L313.21,380.56L314.21,380.55L315.21,380.55L316.21,380.54L317.21,380.54L318.21,380.54L319.21,380.53L320.21,380.52L321.20,380.52L322.20,380.51L323.20,380.51L324.20,380.50L324.20,451.00L323.20,450.74L322.20,450.48L321.20,450.22L320.21,449.95L319.21,449.68L318.21,449.41L317.21,449.13L316.21,448.84L315.21,448.56L314.21,448.27L313.21,447.97L312.22,447.67L311.22,447.37L310.22,447.06L309.22,446.75L308.22,446.44L307.22,446.12L306.22,445.79L305.23,445.46L304.23,445.13L303.23,444.79L302.23,444.45L301.23,444.11L300.23,443.76L299.23,443.41L298.23,443.05L297.24,442.69L296.24,442.33L295.24,441.97L294.24,441.60L293.24,441.23L292.24,440.85L291.24,440.47L290.25,440.09L289.25,439.71L288.25,439.32L287.25,438.93L286.25,438.53L285.25,438.13L284.25,437.73L283.25,437.32L282.26,436.91L281.26,436.49L280.26,436.07L279.26,435.64L278.26,435.22L277.26,434.78L276.26,434.34L275.26,433.90L274.27,433.46L273.27,433.00L272.27,432.55L271.27,432.09L270.27,431.62L269.27,431.15L268.27,430.67L267.28,430.19L266.28,429.70L265.28,429.20L264.28,428.70L263.28,428.20L262.28,427.68L261.28,427.16L260.28,426.64L259.29,426.11L258.29,425.58L257.29,425.04L256.29,424.50L255.29,423.95L254.29,423.40L253.29,422.85L252.30,422.29L251.30,421.73L250.30,421.16L249.30,420.59L248.30,420.01L247.30,419.41L246.30,418.81L245.30,418.20L244.31,417.59L243.31,416.97L242.31,416.34L241.31,415.71L240.31,415.07L239.31,414.44L238.31,413.80L237.32,413.16L236.32,412.53L235.32,411.90L234.32,411.27L233.32,410.64L232.32,410.02L231.32,409.41L230.32,408.80L229.33,408.20L228.33,407.60L227.33,407.01L226.33,406.42L225.33,405.83L224.33,405.24L223.33,404.66L222.34,404.07L221.34,403.49L220.34,402.91L219.34,402.33L218.34,401.76L217.34,401.18L216.34,400.61L215.34,400.04L214.35,399.47L213.35,398.90L212.35,398.33L211.35,397.76L210.35,397.20L209.35,396.64L208.35,396.07L207.35,395.51L206.36,394.95L205.36,394.39L204.36,393.83L203.36,393.27L202.36,392.72L201.36,392.16L200.36,391.61L199.37,391.06L198.37,390.51L197.37,389.96L196.37,389.42L195.37,388.87L194.37,388.33L193.37,387.80L192.37,387.26L191.38,386.73L190.38,386.20L189.38,385.68L188.38,385.15L187.38,384.63L186.38,384.11L185.38,383.60L184.39,383.09L183.39,382.58L182.39,382.07L181.39,381.56L180.39,381.06L179.39,380.56L178.39,380.06L177.39,379.56L176.40,379.07L175.40,378.58L174.40,378.09L173.40,377.60L173.40,377.60L172.40,378.06L171.40,378.53L170.40,378.99L169.41,379.46L168.41,379.93L167.41,380.40L166.41,380.88L165.41,381.36L164.41,381.84L163.41,382.32L162.42,382.81L161.42,383.30L160.42,383.80L159.42,384.32L158.42,384.84L157.42,385.37L156.42,385.89L155.43,386.41L154.43,386.92L153.43,387.42L152.43,387.90L151.43,388.36L150.43,388.80L149.43,389.22L148.44,389.64L147.44,390.05L146.44,390.46L145.44,390.88L144.44,391.28L143.44,391.69L142.44,392.08L141.45,392.47L140.45,392.84L139.45,393.20L138.45,393.55L137.45,393.88L136.45,394.19L135.46,394.47L134.46,394.73L133.46,394.97L132.46,395.18L131.46,395.36L130.46,395.51L129.46,395.64L128.47,395.75L127.47,395.85L126.47,395.94L125.47,396.02L124.47,396.10L123.47,396.17L122.47,396.23L121.48,396.30L120.48,396.35L119.48,396.41L118.48,396.47L117.48,396.52L116.48,396.58L115.48,396.63L114.49,396.69L113.49,396.75L112.49,396.82L111.49,396.89L110.49,396.97L109.49,397.04L108.49,397.12L107.50,397.21L106.50,397.29L105.50,397.37L104.50,397.45L103.50,397.54L102.50,397.63L101.50,397.71L100.51,397.80L99.51,397.90L98.51,398.00L97.51,398.10L96.51,398.20L95.51,398.31L94.51,398.42L93.52,398.54L92.52,398.67L91.52,398.80L90.52,398.94L89.52,399.08L88.52,399.24L87.52,399.42L86.53,399.60L85.53,399.80L84.53,400.01L83.53,400.23L82.53,400.46L81.53,400.71L80.53,400.96L79.54,401.22L78.54,401.49L77.54,401.76L76.54,402.05L75.54,402.33L74.54,402.63L73.54,402.92L72.55,403.22L71.55,403.53L70.55,403.84L69.55,404.16L68.55,404.49L67.55,404.83L66.56,405.19L65.56,405.57L64.56,405.96L63.56,406.36L62.56,406.77L61.56,407.18L60.56,407.61L59.57,408.03L58.57,408.46L57.57,408.89L56.57,409.32L55.57,409.75L54.57,410.17L53.57,410.58L52.58,410.99L51.58,411.39L50.58,411.77L49.58,412.15L48.58,412.52L47.58,412.88L46.58,413.24L45.59,413.60L44.59,413.95L43.59,414.30L42.59,414.65L41.59,414.99L40.59,415.34L39.59,415.67L38.60,416.01L37.60,416.34L36.60,416.67L35.60,417.00Z" fill="rgba(212,112,128,0.17)"/>
<path d="M35.60,377.40L36.60,377.40L37.60,377.40L38.60,377.40L39.59,377.40L40.59,377.40L41.59,377.40L42.59,377.40L43.59,377.40L44.59,377.40L45.59,377.40L46.58,377.40L47.58,377.40L48.58,377.40L49.58,377.40L50.58,377.40L51.58,377.40L52.58,377.40L53.58,377.40L54.57,377.40L55.57,377.40L56.57,377.40L57.57,377.40L58.57,377.40L59.57,377.40L60.57,377.40L61.56,377.40L62.56,377.40L63.56,377.40L64.56,377.40L65.56,377.40L66.56,377.40L67.56,377.40L68.55,377.40L69.55,377.40L70.55,377.40L71.55,377.40L72.55,377.40L73.55,377.40L74.55,377.40L75.54,377.40L76.54,377.40L77.54,377.40L78.54,377.40L79.54,377.40L80.54,377.40L81.54,377.40L82.53,377.40L83.53,377.40L84.53,377.40L85.53,377.40L86.53,377.40L87.53,377.40L88.53,377.40L89.53,377.40L90.52,377.40L91.52,377.40L92.52,377.40L93.52,377.40L94.52,377.40L95.52,377.40L96.52,377.40L97.51,377.40L98.51,377.40L99.51,377.40L100.51,377.40L101.51,377.40L102.51,377.40L103.51,377.40L104.50,377.40L105.50,377.40L106.50,377.40L107.50,377.40L108.50,377.40L109.50,377.40L110.50,377.39L111.49,377.39L112.49,377.37L113.49,377.36L114.49,377.33L115.49,377.31L116.49,377.27L117.49,377.24L118.49,377.20L119.48,377.15L120.48,377.11L121.48,377.06L122.48,377.01L123.48,376.96L124.48,376.90L125.48,376.85L126.47,376.79L127.47,376.74L128.47,376.68L129.47,376.63L130.47,376.58L131.47,376.53L132.47,376.48L133.46,376.43L134.46,376.38L135.46,376.34L136.46,376.31L137.46,376.27L138.46,376.24L139.46,376.22L140.45,376.19L141.45,376.17L142.45,376.15L143.45,376.13L144.45,376.11L145.45,376.09L146.45,376.08L147.44,376.06L148.44,376.05L149.44,376.03L150.44,376.02L151.44,376.01L152.44,376.01L153.44,376.01L154.44,376.01L155.43,376.03L156.43,376.05L157.43,376.08L158.43,376.12L159.43,376.17L160.43,376.22L161.43,376.27L162.42,376.34L163.42,376.41L164.42,376.49L165.42,376.58L166.42,376.68L167.42,376.79L168.42,376.91L169.41,377.04L170.41,377.17L171.41,377.31L172.41,377.46L173.41,377.61L174.41,377.77L175.41,377.95L176.40,378.13L177.40,378.33L178.40,378.54L179.40,378.76L180.40,379.00L181.40,379.24L182.40,379.48L183.40,379.74L184.39,379.99L185.39,380.26L186.39,380.52L187.39,380.79L188.39,381.06L189.39,381.34L190.39,381.61L191.38,381.89L192.38,382.18L193.38,382.47L194.38,382.77L195.38,383.08L196.38,383.40L197.38,383.72L198.37,384.05L199.37,384.39L200.37,384.74L201.37,385.10L202.37,385.47L203.37,385.85L204.37,386.24L205.36,386.64L206.36,387.05L207.36,387.46L208.36,387.88L209.36,388.30L210.36,388.72L211.36,389.15L212.36,389.58L213.35,390.01L214.35,390.44L215.35,390.87L216.35,391.29L217.35,391.71L218.35,392.12L219.35,392.53L220.34,392.94L221.34,393.34L222.34,393.74L223.34,394.14L224.34,394.54L225.34,394.94L226.34,395.34L227.33,395.74L228.33,396.14L229.33,396.53L230.33,396.93L231.33,397.32L232.33,397.71L233.33,398.10L234.32,398.49L235.32,398.87L236.32,399.25L237.32,399.63L238.32,400.01L239.32,400.38L240.32,400.75L241.31,401.11L242.31,401.47L243.31,401.82L244.31,402.18L245.31,402.52L246.31,402.87L247.31,403.21L248.31,403.55L249.30,403.89L250.30,404.23L251.30,404.56L252.30,404.90L253.30,405.23L254.30,405.56L255.30,405.89L256.29,406.22L257.29,406.56L258.29,406.89L259.29,407.23L260.29,407.56L261.29,407.90L262.29,408.24L263.28,408.58L264.28,408.92L265.28,409.26L266.28,409.61L267.28,409.95L268.28,410.29L269.28,410.64L270.27,410.98L271.27,411.32L272.27,411.66L273.27,411.99L274.27,412.33L275.27,412.66L276.27,412.99L277.27,413.32L278.26,413.64L279.26,413.96L280.26,414.28L281.26,414.59L282.26,414.90L283.26,415.21L284.26,415.52L285.25,415.83L286.25,416.13L287.25,416.44L288.25,416.74L289.25,417.03L290.25,417.33L291.25,417.63L292.24,417.92L293.24,418.21L294.24,418.50L295.24,418.79L296.24,419.07L297.24,419.35L298.24,419.63L299.23,419.91L300.23,420.19L301.23,420.46L302.23,420.73L303.23,421.00L304.23,421.27L305.23,421.54L306.22,421.81L307.22,422.07L308.22,422.33L309.22,422.60L310.22,422.85L311.22,423.11L312.22,423.37L313.22,423.62L314.21,423.88L315.21,424.13L316.21,424.37L317.21,424.62L318.21,424.87L319.21,425.11L320.21,425.35L321.20,425.59L322.20,425.83L323.20,426.06L324.20,426.30" fill="none" stroke="#ff2222" stroke-width="1.90" stroke-linejoin="round"/>
<circle cx="173.40" cy="377.60" r="2.15" fill="#ff2222"/>
<path d="M35.60,271.40 V483.40 H324.20 V271.40" fill="none" stroke="#3a3a3a" stroke-width="1.1"/>
<g stroke="#3a3a3a" stroke-width="1"><line x1="33.60" y1="483.40" x2="35.60" y2="483.40"/><line x1="33.60" y1="430.40" x2="35.60" y2="430.40"/><line x1="33.60" y1="377.40" x2="35.60" y2="377.40"/><line x1="33.60" y1="324.40" x2="35.60" y2="324.40"/><line x1="33.60" y1="271.40" x2="35.60" y2="271.40"/><line x1="324.20" y1="483.40" x2="326.20" y2="483.40"/><line x1="324.20" y1="430.40" x2="326.20" y2="430.40"/><line x1="324.20" y1="377.40" x2="326.20" y2="377.40"/><line x1="324.20" y1="324.40" x2="326.20" y2="324.40"/><line x1="324.20" y1="271.40" x2="326.20" y2="271.40"/><line x1="107.20" y1="483.40" x2="107.20" y2="485.40"/><line x1="194.90" y1="483.40" x2="194.90" y2="485.40"/><line x1="279.60" y1="483.40" x2="279.60" y2="485.40"/></g>
<g fill="#222222" font-size="10.30"><text x="24.20" y="487.10" text-anchor="middle">0.0</text><text x="24.20" y="434.10" text-anchor="middle">0.5</text><text x="24.20" y="381.10" text-anchor="middle">1.0</text><text x="24.20" y="328.10" text-anchor="middle">1.5</text><text x="24.20" y="275.10" text-anchor="middle">2.0</text><text x="325.60" y="487.40">0</text><text x="325.60" y="434.40">5</text><text x="325.60" y="381.40">10</text><text x="325.60" y="328.40">15</text><text x="325.60" y="275.40">20</text><text x="107.20" y="493.80" text-anchor="middle">200</text><text x="194.00" y="493.80" text-anchor="middle">400</text><text x="279.60" y="493.80" text-anchor="middle">600</text><text x="175.30" y="507.40" text-anchor="middle">PEF</text><line x1="64.00" y1="284.60" x2="87.20" y2="284.60" stroke="#e04e68" stroke-width="1.75"/><line x1="64.00" y1="298.20" x2="87.20" y2="298.20" stroke="#111" stroke-width="1.4" stroke-dasharray="3.5 1.35"/><text x="92.80" y="289.00" font-size="10.1">Estimation</text><text x="92.80" y="302.60" font-size="10.1">95% CI</text><text x="195.00" y="292.50">P for overall = 0.168</text><text x="195.00" y="304.90">P for nonlinear = 0.302</text></g>
<text transform="translate(13.60,377.50) rotate(-90)" text-anchor="middle" font-size="10.25" fill="#222222">OR where the lshap.cutoff.for PEF is 349.370</text>
<text x="0.80" y="267.30" font-size="15" fill="#111">C</text>
<g fill="#fbf8f9" stroke="#cdcdcd" stroke-width="1"><rect x="380.60" y="479.00" width="15.18" height="4.40"/><rect x="395.78" y="469.40" width="15.18" height="14.00"/><rect x="410.96" y="469.40" width="15.18" height="14.00"/><rect x="426.14" y="463.40" width="15.18" height="20.00"/><rect x="441.32" y="460.40" width="15.18" height="23.00"/><rect x="456.49" y="457.40" width="15.18" height="26.00"/><rect x="471.67" y="443.40" width="15.18" height="40.00"/><rect x="486.85" y="393.40" width="15.18" height="90.00"/><rect x="502.03" y="401.50" width="15.18" height="81.90"/><rect x="517.21" y="393.40" width="15.18" height="90.00"/><rect x="532.39" y="411.40" width="15.18" height="72.00"/><rect x="547.57" y="313.00" width="15.18" height="170.40"/><rect x="562.75" y="366.00" width="15.18" height="117.40"/><rect x="577.93" y="460.40" width="15.18" height="23.00"/><rect x="593.11" y="426.40" width="15.18" height="57.00"/><rect x="608.28" y="450.40" width="15.18" height="33.00"/><rect x="623.46" y="454.40" width="15.18" height="29.00"/><rect x="638.64" y="410.40" width="15.18" height="73.00"/><rect x="653.82" y="403.40" width="15.18" height="80.00"/></g>
<line x1="380.60" y1="430.40" x2="669.00" y2="430.40" stroke="#adadad" stroke-width="1.3" stroke-dasharray="5.6 5.45" stroke-dashoffset="0.00"/>
<path d="M380.60,280.00L381.59,282.18L382.59,284.37L383.58,286.56L384.58,288.77L385.57,290.99L386.56,293.22L387.56,295.46L388.55,297.71L389.55,299.98L390.54,302.27L391.53,304.57L392.53,306.90L393.52,309.24L394.52,311.59L395.51,313.95L396.50,316.30L397.50,318.65L398.49,320.98L399.49,323.30L400.48,325.61L401.47,327.92L402.47,330.24L403.46,332.54L404.46,334.84L405.45,337.12L406.44,339.35L407.44,341.55L408.43,343.68L409.43,345.76L410.42,347.77L411.41,349.72L412.41,351.62L413.40,353.48L414.40,355.29L415.39,357.08L416.38,358.82L417.38,360.55L418.37,362.24L419.37,363.92L420.36,365.57L421.35,367.19L422.35,368.79L423.34,370.36L424.34,371.92L425.33,373.45L426.32,374.96L427.32,376.47L428.31,377.97L429.31,379.46L430.30,380.95L431.29,382.43L432.29,383.91L433.28,385.38L434.28,386.84L435.27,388.29L436.26,389.72L437.26,391.15L438.25,392.55L439.25,393.94L440.24,395.31L441.23,396.67L442.23,398.02L443.22,399.35L444.22,400.67L445.21,401.98L446.20,403.26L447.20,404.53L448.19,405.77L449.19,407.00L450.18,408.20L451.17,409.39L452.17,410.57L453.16,411.74L454.16,412.88L455.15,414.01L456.14,415.10L457.14,416.16L458.13,417.17L459.13,418.14L460.12,419.07L461.11,419.96L462.11,420.82L463.10,421.66L464.10,422.47L465.09,423.25L466.08,423.99L467.08,424.69L468.07,425.33L469.07,425.93L470.06,426.49L471.05,427.01L472.05,427.49L473.04,427.96L474.04,428.40L475.03,428.81L476.02,429.19L477.02,429.54L478.01,429.85L479.01,430.14L480.00,430.40L480.00,430.40L481.00,429.97L482.00,429.54L483.00,429.10L484.00,428.67L485.00,428.24L486.00,427.82L487.00,427.39L488.00,426.96L489.00,426.53L490.00,426.11L491.00,425.69L492.00,425.26L493.00,424.84L494.00,424.42L495.00,424.01L496.00,423.61L497.00,423.21L498.00,422.83L499.00,422.46L500.00,422.10L501.00,421.74L502.00,421.38L503.00,421.01L504.00,420.64L505.00,420.26L506.00,419.86L507.00,419.44L508.00,419.00L509.00,418.54L510.00,418.04L511.00,417.51L512.00,416.93L513.00,416.28L514.00,415.56L515.00,414.77L516.00,413.91L517.00,412.99L518.00,412.03L519.00,411.04L520.00,410.02L521.00,409.00L522.00,407.98L523.00,406.97L524.00,405.99L525.00,405.03L526.00,404.09L527.00,403.17L528.00,402.25L529.00,401.34L530.00,400.44L531.00,399.53L532.00,398.61L533.00,397.70L534.00,396.77L535.00,395.84L536.00,394.90L537.00,393.94L538.00,392.97L539.00,391.98L540.00,390.98L541.00,389.96L542.00,388.92L543.00,387.86L544.00,386.79L545.00,385.70L546.00,384.59L547.00,383.47L548.00,382.32L549.00,381.16L550.00,379.97L551.00,378.76L552.00,377.52L553.00,376.25L554.00,374.96L555.00,373.65L556.00,372.33L557.00,371.00L558.00,369.67L559.00,368.33L560.00,367.00L561.00,365.66L562.00,364.32L563.00,362.96L564.00,361.61L565.00,360.25L566.00,358.89L567.00,357.54L568.00,356.18L569.00,354.84L570.00,353.50L571.00,352.17L572.00,350.83L573.00,349.50L574.00,348.17L575.00,346.85L576.00,345.54L577.00,344.25L578.00,342.98L579.00,341.74L580.00,340.53L581.00,339.33L582.00,338.15L583.00,337.00L584.00,335.86L585.00,334.74L586.00,333.64L587.00,332.57L588.00,331.53L589.00,330.51L590.00,329.53L591.00,328.58L592.00,327.65L593.00,326.74L594.00,325.86L595.00,325.00L596.00,324.16L597.00,323.34L598.00,322.55L599.00,321.77L600.00,321.02L601.00,320.29L602.00,319.58L603.00,318.89L604.00,318.21L605.00,317.55L606.00,316.91L607.00,316.29L608.00,315.68L609.00,315.09L610.00,314.52L611.00,313.97L612.00,313.44L613.00,312.92L614.00,312.42L615.00,311.93L616.00,311.44L617.00,310.96L618.00,310.47L619.00,309.99L620.00,309.50L621.00,309.00L622.00,308.51L623.00,308.02L624.00,307.53L625.00,307.04L626.00,306.54L627.00,306.04L628.00,305.53L629.00,305.01L630.00,304.48L631.00,303.94L632.00,303.38L633.00,302.82L634.00,302.24L635.00,301.66L636.00,301.08L637.00,300.50L638.00,299.93L639.00,299.36L640.00,298.81L641.00,298.26L642.00,297.72L643.00,297.17L644.00,296.63L645.00,296.10L646.00,295.56L647.00,295.03L648.00,294.51L649.00,293.99L650.00,293.48L651.00,292.98L652.00,292.48L653.00,292.00L654.00,291.52L655.00,291.06L656.00,290.61L657.00,290.17L658.00,289.74L659.00,289.31L660.00,288.90L661.00,288.49L662.00,288.09L663.00,287.69L664.00,287.31L665.00,286.93L666.00,286.56L667.00,286.20L668.00,285.85L669.00,285.50L669.00,472.00L668.00,471.92L667.00,471.84L666.00,471.76L665.00,471.69L664.00,471.61L663.00,471.53L662.00,471.45L661.00,471.37L660.00,471.30L659.00,471.22L658.00,471.15L657.00,471.07L656.00,470.99L655.00,470.92L654.00,470.84L653.00,470.77L652.00,470.69L651.00,470.62L650.00,470.55L649.00,470.47L648.00,470.40L647.00,470.33L646.00,470.26L645.00,470.19L644.00,470.12L643.00,470.05L642.00,469.99L641.00,469.92L640.00,469.86L639.00,469.79L638.00,469.72L637.00,469.66L636.00,469.59L635.00,469.52L634.00,469.45L633.00,469.38L632.00,469.31L631.00,469.23L630.00,469.16L629.00,469.08L628.00,469.00L627.00,468.91L626.00,468.83L625.00,468.74L624.00,468.65L623.00,468.56L622.00,468.47L621.00,468.37L620.00,468.27L619.00,468.18L618.00,468.08L617.00,467.97L616.00,467.87L615.00,467.77L614.00,467.66L613.00,467.55L612.00,467.44L611.00,467.33L610.00,467.22L609.00,467.11L608.00,467.00L607.00,466.88L606.00,466.77L605.00,466.65L604.00,466.52L603.00,466.40L602.00,466.27L601.00,466.15L600.00,466.02L599.00,465.89L598.00,465.75L597.00,465.62L596.00,465.49L595.00,465.35L594.00,465.22L593.00,465.08L592.00,464.94L591.00,464.81L590.00,464.67L589.00,464.54L588.00,464.40L587.00,464.27L586.00,464.13L585.00,464.00L584.00,463.86L583.00,463.73L582.00,463.60L581.00,463.46L580.00,463.33L579.00,463.19L578.00,463.06L577.00,462.92L576.00,462.78L575.00,462.64L574.00,462.50L573.00,462.35L572.00,462.21L571.00,462.06L570.00,461.91L569.00,461.75L568.00,461.60L567.00,461.44L566.00,461.28L565.00,461.13L564.00,460.97L563.00,460.81L562.00,460.64L561.00,460.48L560.00,460.31L559.00,460.14L558.00,459.97L557.00,459.80L556.00,459.62L555.00,459.43L554.00,459.24L553.00,459.05L552.00,458.85L551.00,458.64L550.00,458.43L549.00,458.22L548.00,457.99L547.00,457.75L546.00,457.51L545.00,457.25L544.00,456.99L543.00,456.71L542.00,456.43L541.00,456.13L540.00,455.83L539.00,455.52L538.00,455.21L537.00,454.88L536.00,454.56L535.00,454.22L534.00,453.89L533.00,453.54L532.00,453.20L531.00,452.85L530.00,452.49L529.00,452.13L528.00,451.75L527.00,451.37L526.00,450.98L525.00,450.57L524.00,450.16L523.00,449.74L522.00,449.31L521.00,448.88L520.00,448.45L519.00,448.02L518.00,447.58L517.00,447.14L516.00,446.71L515.00,446.28L514.00,445.85L513.00,445.42L512.00,445.01L511.00,444.59L510.00,444.19L509.00,443.78L508.00,443.38L507.00,442.98L506.00,442.58L505.00,442.18L504.00,441.79L503.00,441.38L502.00,440.98L501.00,440.57L500.00,440.16L499.00,439.74L498.00,439.31L497.00,438.88L496.00,438.44L495.00,437.99L494.00,437.53L493.00,437.07L492.00,436.59L491.00,436.11L490.00,435.62L489.00,435.13L488.00,434.63L487.00,434.12L486.00,433.60L485.00,433.08L484.00,432.56L483.00,432.02L482.00,431.49L481.00,430.94L480.00,430.40L480.00,430.40L479.01,430.69L478.01,430.97L477.02,431.26L476.02,431.54L475.03,431.82L474.04,432.10L473.04,432.38L472.05,432.66L471.05,432.94L470.06,433.22L469.07,433.49L468.07,433.76L467.08,434.04L466.08,434.31L465.09,434.57L464.10,434.84L463.10,435.11L462.11,435.38L461.11,435.64L460.12,435.90L459.13,436.17L458.13,436.43L457.14,436.69L456.14,436.95L455.15,437.20L454.16,437.46L453.16,437.71L452.17,437.96L451.17,438.21L450.18,438.45L449.19,438.70L448.19,438.95L447.20,439.19L446.20,439.43L445.21,439.68L444.22,439.92L443.22,440.16L442.23,440.39L441.23,440.63L440.24,440.86L439.25,441.08L438.25,441.31L437.26,441.52L436.26,441.73L435.27,441.94L434.28,442.14L433.28,442.33L432.29,442.52L431.29,442.70L430.30,442.88L429.31,443.06L428.31,443.23L427.32,443.40L426.32,443.57L425.33,443.73L424.34,443.90L423.34,444.06L422.35,444.23L421.35,444.39L420.36,444.56L419.37,444.73L418.37,444.90L417.38,445.07L416.38,445.25L415.39,445.43L414.40,445.62L413.40,445.81L412.41,446.00L411.41,446.20L410.42,446.39L409.43,446.59L408.43,446.80L407.44,447.00L406.44,447.21L405.45,447.41L404.46,447.62L403.46,447.82L402.47,448.03L401.47,448.23L400.48,448.43L399.49,448.63L398.49,448.83L397.50,449.02L396.50,449.21L395.51,449.40L394.52,449.59L393.52,449.77L392.53,449.95L391.53,450.13L390.54,450.31L389.55,450.48L388.55,450.66L387.56,450.83L386.56,451.00L385.57,451.17L384.58,451.34L383.58,451.51L382.59,451.67L381.59,451.84L380.60,452.00Z" fill="rgba(212,112,128,0.17)"/>
<path d="M380.60,403.30L381.60,403.66L382.60,404.03L383.59,404.39L384.59,404.76L385.59,405.12L386.59,405.48L387.59,405.84L388.58,406.21L389.58,406.57L390.58,406.93L391.58,407.29L392.58,407.65L393.57,408.00L394.57,408.36L395.57,408.72L396.57,409.08L397.56,409.43L398.56,409.79L399.56,410.14L400.56,410.50L401.56,410.86L402.55,411.23L403.55,411.59L404.55,411.96L405.55,412.33L406.55,412.70L407.54,413.07L408.54,413.43L409.54,413.80L410.54,414.16L411.54,414.52L412.53,414.87L413.53,415.22L414.53,415.56L415.53,415.90L416.53,416.23L417.52,416.54L418.52,416.85L419.52,417.15L420.52,417.44L421.51,417.72L422.51,417.99L423.51,418.25L424.51,418.51L425.51,418.76L426.50,419.01L427.50,419.26L428.50,419.49L429.50,419.73L430.50,419.96L431.49,420.20L432.49,420.43L433.49,420.65L434.49,420.88L435.49,421.11L436.48,421.33L437.48,421.55L438.48,421.77L439.48,421.98L440.48,422.19L441.47,422.40L442.47,422.61L443.47,422.82L444.47,423.03L445.47,423.23L446.46,423.44L447.46,423.66L448.46,423.87L449.46,424.09L450.45,424.30L451.45,424.53L452.45,424.75L453.45,424.98L454.45,425.21L455.44,425.45L456.44,425.68L457.44,425.91L458.44,426.15L459.44,426.38L460.43,426.60L461.43,426.83L462.43,427.05L463.43,427.26L464.43,427.48L465.42,427.68L466.42,427.88L467.42,428.08L468.42,428.28L469.42,428.47L470.41,428.66L471.41,428.84L472.41,429.03L473.41,429.21L474.40,429.39L475.40,429.57L476.40,429.75L477.40,429.93L478.40,430.11L479.39,430.29L480.39,430.48L481.39,430.66L482.39,430.86L483.39,431.05L484.38,431.25L485.38,431.45L486.38,431.65L487.38,431.84L488.38,432.03L489.37,432.21L490.37,432.38L491.37,432.54L492.37,432.68L493.37,432.81L494.36,432.92L495.36,433.02L496.36,433.12L497.36,433.21L498.36,433.29L499.35,433.37L500.35,433.45L501.35,433.53L502.35,433.60L503.34,433.67L504.34,433.74L505.34,433.79L506.34,433.84L507.34,433.89L508.33,433.93L509.33,433.96L510.33,433.98L511.33,433.99L512.33,434.00L513.32,434.00L514.32,434.00L515.32,434.00L516.32,434.00L517.32,434.00L518.31,434.00L519.31,434.00L520.31,434.00L521.31,434.00L522.31,434.00L523.30,434.00L524.30,434.00L525.30,434.00L526.30,434.00L527.29,434.00L528.29,434.00L529.29,434.00L530.29,433.99L531.29,433.97L532.28,433.94L533.28,433.90L534.28,433.85L535.28,433.78L536.28,433.71L537.27,433.63L538.27,433.54L539.27,433.44L540.27,433.34L541.27,433.24L542.26,433.13L543.26,433.03L544.26,432.92L545.26,432.82L546.26,432.72L547.25,432.63L548.25,432.54L549.25,432.46L550.25,432.39L551.24,432.31L552.24,432.24L553.24,432.17L554.24,432.09L555.24,432.02L556.23,431.95L557.23,431.87L558.23,431.80L559.23,431.73L560.23,431.66L561.22,431.60L562.22,431.53L563.22,431.48L564.22,431.42L565.22,431.37L566.21,431.33L567.21,431.29L568.21,431.25L569.21,431.22L570.21,431.20L571.20,431.18L572.20,431.16L573.20,431.14L574.20,431.13L575.20,431.11L576.19,431.10L577.19,431.08L578.19,431.07L579.19,431.06L580.18,431.05L581.18,431.04L582.18,431.03L583.18,431.02L584.18,431.01L585.17,431.01L586.17,431.00L587.17,431.00L588.17,431.00L589.17,431.01L590.16,431.02L591.16,431.03L592.16,431.04L593.16,431.06L594.16,431.08L595.15,431.11L596.15,431.14L597.15,431.17L598.15,431.20L599.15,431.24L600.14,431.28L601.14,431.31L602.14,431.35L603.14,431.39L604.13,431.44L605.13,431.48L606.13,431.52L607.13,431.56L608.13,431.61L609.12,431.66L610.12,431.71L611.12,431.76L612.12,431.82L613.12,431.88L614.11,431.95L615.11,432.02L616.11,432.09L617.11,432.16L618.11,432.24L619.10,432.32L620.10,432.39L621.10,432.47L622.10,432.55L623.10,432.63L624.09,432.71L625.09,432.78L626.09,432.86L627.09,432.93L628.09,433.00L629.08,433.07L630.08,433.14L631.08,433.21L632.08,433.28L633.07,433.34L634.07,433.41L635.07,433.47L636.07,433.54L637.07,433.60L638.06,433.67L639.06,433.74L640.06,433.81L641.06,433.87L642.06,433.95L643.05,434.02L644.05,434.09L645.05,434.17L646.05,434.24L647.05,434.32L648.04,434.41L649.04,434.49L650.04,434.58L651.04,434.67L652.04,434.76L653.03,434.85L654.03,434.95L655.03,435.05L656.03,435.15L657.02,435.25L658.02,435.35L659.02,435.46L660.02,435.56L661.02,435.67L662.01,435.78L663.01,435.89L664.01,436.01L665.01,436.12L666.01,436.24L667.00,436.36L668.00,436.48L669.00,436.60" fill="none" stroke="#ff2222" stroke-width="1.90" stroke-linejoin="round"/>
<circle cx="480.00" cy="430.40" r="2.15" fill="#ff2222"/>
<path d="M380.60,271.40 V483.40 H669.00 V271.40" fill="none" stroke="#3a3a3a" stroke-width="1.1"/>
<g stroke="#3a3a3a" stroke-width="1"><line x1="378.60" y1="483.40" x2="380.60" y2="483.40"/><line x1="378.60" y1="430.40" x2="380.60" y2="430.40"/><line x1="378.60" y1="377.40" x2="380.60" y2="377.40"/><line x1="378.60" y1="324.40" x2="380.60" y2="324.40"/><line x1="378.60" y1="271.40" x2="380.60" y2="271.40"/><line x1="669.00" y1="483.40" x2="671.00" y2="483.40"/><line x1="669.00" y1="430.40" x2="671.00" y2="430.40"/><line x1="669.00" y1="377.40" x2="671.00" y2="377.40"/><line x1="669.00" y1="324.40" x2="671.00" y2="324.40"/><line x1="669.00" y1="271.40" x2="671.00" y2="271.40"/><line x1="406.60" y1="483.40" x2="406.60" y2="485.40"/><line x1="473.20" y1="483.40" x2="473.20" y2="485.40"/><line x1="539.80" y1="483.40" x2="539.80" y2="485.40"/><line x1="606.40" y1="483.40" x2="606.40" y2="485.40"/></g>
<g fill="#222222" font-size="10.30"><text x="370.00" y="487.10" text-anchor="middle">0</text><text x="370.00" y="434.10" text-anchor="middle">1</text><text x="370.00" y="381.10" text-anchor="middle">2</text><text x="370.00" y="328.10" text-anchor="middle">3</text><text x="370.00" y="275.10" text-anchor="middle">4</text><text x="670.40" y="487.40">0</text><text x="670.40" y="434.40">5</text><text x="670.40" y="381.40">10</text><text x="670.40" y="328.40">15</text><text x="670.40" y="275.40">20</text><text x="406.20" y="493.80" text-anchor="middle">150</text><text x="472.30" y="493.80" text-anchor="middle">200</text><text x="539.50" y="493.80" text-anchor="middle">250</text><text x="607.00" y="493.80" text-anchor="middle">300</text><text x="524.50" y="507.40" text-anchor="middle">Predicted PEF</text><line x1="410.00" y1="284.60" x2="433.20" y2="284.60" stroke="#e04e68" stroke-width="1.75"/><line x1="410.00" y1="298.20" x2="433.20" y2="298.20" stroke="#111" stroke-width="1.4" stroke-dasharray="3.5 1.35"/><text x="439.20" y="289.00" font-size="10.1">Estimation</text><text x="439.20" y="302.00" font-size="10.1">95% CI</text><text x="540.40" y="292.50">P for overall = 821</text><text x="540.40" y="304.90">P for nonlinear = 0.710</text></g>
<text transform="translate(359.30,379.30) rotate(-90)" text-anchor="middle" font-size="8.85" fill="#222222">OR where the lshap.cutoff.for Predicted PEF is 205.562</text>
<text x="348.80" y="268.30" font-size="15" fill="#111">D</text>
<g fill="#fbf8f9" stroke="#cdcdcd" stroke-width="1"><rect x="35.60" y="737.60" width="15.20" height="2.70"/><rect x="50.80" y="732.40" width="15.20" height="7.90"/><rect x="66.00" y="729.60" width="15.20" height="10.70"/><rect x="81.20" y="720.40" width="15.20" height="19.90"/><rect x="96.40" y="725.60" width="15.20" height="14.70"/><rect x="111.60" y="708.60" width="15.20" height="31.70"/><rect x="126.80" y="689.40" width="15.20" height="50.90"/><rect x="142.00" y="684.40" width="15.20" height="55.90"/><rect x="157.20" y="675.40" width="15.20" height="64.90"/><rect x="172.40" y="637.60" width="15.20" height="102.70"/><rect x="187.60" y="598.60" width="15.20" height="141.70"/><rect x="202.80" y="639.40" width="15.20" height="100.90"/><rect x="218.00" y="577.40" width="15.20" height="162.90"/><rect x="233.20" y="651.40" width="15.20" height="88.90"/><rect x="248.40" y="700.50" width="15.20" height="39.80"/><rect x="263.60" y="699.20" width="15.20" height="41.10"/><rect x="278.80" y="708.00" width="15.20" height="32.30"/><rect x="294.00" y="682.60" width="15.20" height="57.70"/><rect x="309.20" y="706.20" width="15.20" height="34.10"/></g>
<line x1="35.60" y1="726.17" x2="324.40" y2="726.17" stroke="#adadad" stroke-width="1.3" stroke-dasharray="5.6 5.45" stroke-dashoffset="0.00"/>
<path d="M35.60,529.00L36.60,531.30L37.60,533.58L38.60,535.84L39.60,538.07L40.59,540.26L41.59,542.43L42.59,544.57L43.59,546.68L44.59,548.78L45.59,550.86L46.59,552.94L47.59,555.01L48.59,557.08L49.59,559.15L50.58,561.23L51.58,563.33L52.58,565.43L53.58,567.53L54.58,569.62L55.58,571.70L56.58,573.75L57.58,575.76L58.58,577.73L59.58,579.65L60.57,581.52L61.57,583.36L62.57,585.16L63.57,586.93L64.57,588.67L65.57,590.37L66.57,592.03L67.57,593.66L68.57,595.25L69.56,596.79L70.56,598.29L71.56,599.75L72.56,601.16L73.56,602.54L74.56,603.90L75.56,605.23L76.56,606.54L77.56,607.84L78.56,609.13L79.55,610.42L80.55,611.72L81.55,613.00L82.55,614.29L83.55,615.56L84.55,616.83L85.55,618.08L86.55,619.32L87.55,620.55L88.55,621.75L89.54,622.94L90.54,624.11L91.54,625.26L92.54,626.39L93.54,627.50L94.54,628.60L95.54,629.70L96.54,630.78L97.54,631.85L98.54,632.93L99.53,634.00L100.53,635.07L101.53,636.13L102.53,637.19L103.53,638.24L104.53,639.28L105.53,640.33L106.53,641.37L107.53,642.41L108.52,643.46L109.52,644.51L110.52,645.56L111.52,646.62L112.52,647.69L113.52,648.76L114.52,649.83L115.52,650.89L116.52,651.94L117.52,652.98L118.51,654.00L119.51,655.00L120.51,655.97L121.51,656.92L122.51,657.85L123.51,658.77L124.51,659.67L125.51,660.56L126.51,661.44L127.51,662.32L128.50,663.19L129.50,664.06L130.50,664.93L131.50,665.79L132.50,666.65L133.50,667.50L134.50,668.35L135.50,669.20L136.50,670.04L137.49,670.88L138.49,671.73L139.49,672.58L140.49,673.43L141.49,674.29L142.49,675.16L143.49,676.03L144.49,676.90L145.49,677.76L146.49,678.62L147.48,679.45L148.48,680.27L149.48,681.07L150.48,681.84L151.48,682.58L152.48,683.30L153.48,684.00L154.48,684.69L155.48,685.37L156.48,686.06L157.47,686.74L158.47,687.43L159.47,688.14L160.47,688.86L161.47,689.59L162.47,690.34L163.47,691.09L164.47,691.85L165.47,692.60L166.46,693.36L167.46,694.11L168.46,694.86L169.46,695.60L170.46,696.33L171.46,697.05L172.46,697.76L173.46,698.47L174.46,699.18L175.46,699.88L176.45,700.57L177.45,701.26L178.45,701.94L179.45,702.62L180.45,703.30L181.45,703.97L182.45,704.63L183.45,705.29L184.45,705.95L185.45,706.60L186.44,707.24L187.44,707.88L188.44,708.52L189.44,709.15L190.44,709.77L191.44,710.40L192.44,711.02L193.44,711.63L194.44,712.25L195.44,712.85L196.43,713.45L197.43,714.04L198.43,714.61L199.43,715.17L200.43,715.73L201.43,716.27L202.43,716.81L203.43,717.34L204.43,717.86L205.42,718.37L206.42,718.86L207.42,719.34L208.42,719.80L209.42,720.23L210.42,720.66L211.42,721.06L212.42,721.46L213.42,721.84L214.42,722.21L215.41,722.56L216.41,722.90L217.41,723.23L218.41,723.53L219.41,723.82L220.41,724.09L221.41,724.35L222.41,724.60L223.41,724.84L224.41,725.06L225.40,725.27L226.40,725.47L227.40,725.66L228.40,725.83L229.40,726.00L229.40,726.00L230.40,725.98L231.40,725.96L232.40,725.94L233.40,725.92L234.40,725.88L235.40,725.85L236.40,725.81L237.40,725.76L238.40,725.72L239.40,725.67L240.40,725.61L241.40,725.56L242.40,725.50L243.40,725.44L244.40,725.38L245.40,725.31L246.40,725.25L247.40,725.18L248.40,725.11L249.40,725.04L250.40,724.96L251.40,724.88L252.40,724.79L253.40,724.69L254.40,724.59L255.40,724.48L256.40,724.36L257.40,724.23L258.40,724.10L259.40,723.97L260.40,723.83L261.40,723.69L262.40,723.55L263.40,723.41L264.40,723.26L265.40,723.12L266.40,722.98L267.40,722.84L268.40,722.71L269.40,722.58L270.40,722.45L271.40,722.33L272.40,722.20L273.40,722.08L274.40,721.96L275.40,721.83L276.40,721.71L277.40,721.59L278.40,721.46L279.40,721.34L280.40,721.22L281.40,721.09L282.40,720.97L283.40,720.85L284.40,720.72L285.40,720.59L286.40,720.47L287.40,720.34L288.40,720.21L289.40,720.08L290.40,719.95L291.40,719.81L292.40,719.68L293.40,719.54L294.40,719.41L295.40,719.27L296.40,719.14L297.40,719.00L298.40,718.86L299.40,718.72L300.40,718.58L301.40,718.44L302.40,718.30L303.40,718.15L304.40,718.01L305.40,717.87L306.40,717.72L307.40,717.58L308.40,717.43L309.40,717.29L310.40,717.14L311.40,716.99L312.40,716.84L313.40,716.70L314.40,716.55L315.40,716.39L316.40,716.24L317.40,716.09L318.40,715.94L319.40,715.78L320.40,715.63L321.40,715.47L322.40,715.31L323.40,715.16L324.40,715.00L324.40,731.60L323.40,731.55L322.40,731.51L321.40,731.46L320.40,731.42L319.40,731.37L318.40,731.33L317.40,731.29L316.40,731.25L315.40,731.21L314.40,731.17L313.40,731.13L312.40,731.09L311.40,731.05L310.40,731.02L309.40,730.98L308.40,730.95L307.40,730.92L306.40,730.88L305.40,730.85L304.40,730.83L303.40,730.80L302.40,730.77L301.40,730.74L300.40,730.72L299.40,730.69L298.40,730.66L297.40,730.63L296.40,730.61L295.40,730.58L294.40,730.55L293.40,730.52L292.40,730.48L291.40,730.45L290.40,730.41L289.40,730.37L288.40,730.33L287.40,730.29L286.40,730.25L285.40,730.20L284.40,730.15L283.40,730.11L282.40,730.06L281.40,730.00L280.40,729.95L279.40,729.90L278.40,729.85L277.40,729.79L276.40,729.74L275.40,729.68L274.40,729.63L273.40,729.58L272.40,729.52L271.40,729.47L270.40,729.42L269.40,729.37L268.40,729.32L267.40,729.28L266.40,729.23L265.40,729.19L264.40,729.14L263.40,729.10L262.40,729.06L261.40,729.01L260.40,728.97L259.40,728.92L258.40,728.87L257.40,728.83L256.40,728.78L255.40,728.72L254.40,728.67L253.40,728.61L252.40,728.55L251.40,728.49L250.40,728.42L249.40,728.35L248.40,728.27L247.40,728.19L246.40,728.11L245.40,728.01L244.40,727.92L243.40,727.82L242.40,727.71L241.40,727.60L240.40,727.49L239.40,727.37L238.40,727.24L237.40,727.12L236.40,726.99L235.40,726.86L234.40,726.72L233.40,726.58L232.40,726.44L231.40,726.29L230.40,726.15L229.40,726.00L229.40,726.00L228.40,725.92L227.40,725.84L226.40,725.77L225.40,725.69L224.41,725.61L223.41,725.53L222.41,725.45L221.41,725.38L220.41,725.30L219.41,725.22L218.41,725.14L217.41,725.07L216.41,724.99L215.41,724.91L214.42,724.84L213.42,724.76L212.42,724.68L211.42,724.61L210.42,724.53L209.42,724.45L208.42,724.37L207.42,724.29L206.42,724.21L205.42,724.13L204.43,724.05L203.43,723.96L202.43,723.88L201.43,723.80L200.43,723.71L199.43,723.63L198.43,723.55L197.43,723.48L196.43,723.40L195.44,723.33L194.44,723.26L193.44,723.20L192.44,723.14L191.44,723.08L190.44,723.03L189.44,722.97L188.44,722.93L187.44,722.88L186.44,722.83L185.45,722.78L184.45,722.74L183.45,722.69L182.45,722.64L181.45,722.60L180.45,722.55L179.45,722.51L178.45,722.46L177.45,722.42L176.45,722.38L175.46,722.34L174.46,722.30L173.46,722.27L172.46,722.23L171.46,722.20L170.46,722.17L169.46,722.14L168.46,722.12L167.46,722.09L166.46,722.07L165.47,722.05L164.47,722.04L163.47,722.02L162.47,722.01L161.47,722.01L160.47,722.00L159.47,722.00L158.47,722.00L157.47,722.00L156.48,722.00L155.48,722.00L154.48,722.00L153.48,722.00L152.48,722.00L151.48,722.00L150.48,722.00L149.48,722.00L148.48,722.00L147.48,722.00L146.49,722.00L145.49,722.00L144.49,722.00L143.49,722.00L142.49,722.00L141.49,722.00L140.49,722.00L139.49,722.00L138.49,722.00L137.49,722.00L136.50,722.00L135.50,722.00L134.50,722.00L133.50,722.00L132.50,722.00L131.50,722.00L130.50,722.00L129.50,722.00L128.50,722.00L127.51,722.00L126.51,722.00L125.51,722.00L124.51,722.00L123.51,722.00L122.51,722.00L121.51,722.00L120.51,722.00L119.51,722.00L118.51,722.00L117.52,722.00L116.52,722.00L115.52,722.00L114.52,722.00L113.52,722.00L112.52,722.00L111.52,722.00L110.52,722.00L109.52,722.00L108.52,722.00L107.53,722.00L106.53,722.00L105.53,722.00L104.53,722.00L103.53,722.00L102.53,722.00L101.53,722.00L100.53,722.00L99.53,722.00L98.54,722.00L97.54,722.00L96.54,722.00L95.54,722.00L94.54,722.00L93.54,722.00L92.54,722.00L91.54,722.00L90.54,722.00L89.54,722.00L88.55,722.00L87.55,722.00L86.55,722.00L85.55,722.00L84.55,722.00L83.55,722.00L82.55,722.00L81.55,722.00L80.55,722.00L79.55,722.00L78.56,722.00L77.56,722.00L76.56,722.00L75.56,722.00L74.56,722.00L73.56,722.00L72.56,722.00L71.56,722.00L70.56,722.00L69.56,722.00L68.57,722.00L67.57,722.00L66.57,722.00L65.57,722.00L64.57,722.00L63.57,722.00L62.57,722.00L61.57,722.00L60.57,722.00L59.58,722.00L58.58,722.00L57.58,722.00L56.58,722.00L55.58,722.00L54.58,722.00L53.58,722.00L52.58,722.00L51.58,722.00L50.58,722.00L49.59,722.00L48.59,722.00L47.59,722.00L46.59,722.00L45.59,722.00L44.59,722.00L43.59,722.00L42.59,722.00L41.59,722.00L40.59,722.00L39.60,722.00L38.60,722.00L37.60,722.00L36.60,722.00L35.60,722.00Z" fill="rgba(212,112,128,0.17)"/>
<path d="M35.60,678.60L36.60,678.98L37.60,679.37L38.60,679.75L39.60,680.13L40.60,680.51L41.60,680.89L42.60,681.26L43.59,681.64L44.59,682.01L45.59,682.38L46.59,682.75L47.59,683.12L48.59,683.49L49.59,683.85L50.59,684.21L51.59,684.58L52.59,684.94L53.59,685.31L54.59,685.68L55.59,686.04L56.59,686.41L57.58,686.77L58.58,687.13L59.58,687.49L60.58,687.85L61.58,688.20L62.58,688.55L63.58,688.90L64.58,689.24L65.58,689.58L66.58,689.91L67.58,690.23L68.58,690.55L69.58,690.86L70.58,691.17L71.58,691.47L72.57,691.76L73.57,692.05L74.57,692.34L75.57,692.62L76.57,692.90L77.57,693.17L78.57,693.44L79.57,693.71L80.57,693.97L81.57,694.24L82.57,694.50L83.57,694.76L84.57,695.01L85.57,695.27L86.56,695.53L87.56,695.78L88.56,696.03L89.56,696.29L90.56,696.54L91.56,696.79L92.56,697.05L93.56,697.30L94.56,697.54L95.56,697.79L96.56,698.04L97.56,698.28L98.56,698.52L99.56,698.77L100.56,699.01L101.55,699.25L102.55,699.48L103.55,699.72L104.55,699.95L105.55,700.18L106.55,700.42L107.55,700.64L108.55,700.87L109.55,701.10L110.55,701.32L111.55,701.54L112.55,701.77L113.55,701.99L114.55,702.20L115.54,702.42L116.54,702.64L117.54,702.85L118.54,703.07L119.54,703.28L120.54,703.49L121.54,703.70L122.54,703.90L123.54,704.11L124.54,704.31L125.54,704.52L126.54,704.72L127.54,704.91L128.54,705.11L129.53,705.31L130.53,705.50L131.53,705.69L132.53,705.87L133.53,706.06L134.53,706.24L135.53,706.41L136.53,706.59L137.53,706.76L138.53,706.94L139.53,707.11L140.53,707.28L141.53,707.45L142.53,707.63L143.53,707.80L144.52,707.98L145.52,708.16L146.52,708.34L147.52,708.53L148.52,708.72L149.52,708.91L150.52,709.11L151.52,709.31L152.52,709.51L153.52,709.72L154.52,709.93L155.52,710.14L156.52,710.35L157.52,710.57L158.51,710.78L159.51,711.00L160.51,711.23L161.51,711.45L162.51,711.67L163.51,711.90L164.51,712.13L165.51,712.36L166.51,712.59L167.51,712.82L168.51,713.05L169.51,713.29L170.51,713.52L171.51,713.76L172.51,714.01L173.50,714.25L174.50,714.50L175.50,714.76L176.50,715.01L177.50,715.27L178.50,715.53L179.50,715.78L180.50,716.04L181.50,716.30L182.50,716.56L183.50,716.81L184.50,717.07L185.50,717.32L186.50,717.56L187.49,717.81L188.49,718.04L189.49,718.28L190.49,718.51L191.49,718.74L192.49,718.96L193.49,719.18L194.49,719.41L195.49,719.62L196.49,719.84L197.49,720.06L198.49,720.27L199.49,720.48L200.49,720.69L201.49,720.90L202.48,721.11L203.48,721.31L204.48,721.51L205.48,721.72L206.48,721.91L207.48,722.11L208.48,722.31L209.48,722.50L210.48,722.69L211.48,722.89L212.48,723.08L213.48,723.28L214.48,723.48L215.48,723.68L216.47,723.87L217.47,724.07L218.47,724.26L219.47,724.45L220.47,724.64L221.47,724.82L222.47,725.00L223.47,725.16L224.47,725.33L225.47,725.48L226.47,725.62L227.47,725.76L228.47,725.88L229.47,726.00L230.47,726.11L231.46,726.21L232.46,726.32L233.46,726.41L234.46,726.51L235.46,726.60L236.46,726.69L237.46,726.78L238.46,726.86L239.46,726.94L240.46,727.02L241.46,727.10L242.46,727.17L243.46,727.24L244.46,727.30L245.45,727.36L246.45,727.42L247.45,727.47L248.45,727.52L249.45,727.57L250.45,727.62L251.45,727.66L252.45,727.71L253.45,727.75L254.45,727.79L255.45,727.83L256.45,727.87L257.45,727.91L258.45,727.95L259.44,727.99L260.44,728.02L261.44,728.05L262.44,728.08L263.44,728.11L264.44,728.13L265.44,728.15L266.44,728.17L267.44,728.18L268.44,728.19L269.44,728.19L270.44,728.19L271.44,728.19L272.44,728.18L273.44,728.17L274.43,728.15L275.43,728.13L276.43,728.10L277.43,728.08L278.43,728.04L279.43,728.01L280.43,727.98L281.43,727.94L282.43,727.90L283.43,727.86L284.43,727.82L285.43,727.78L286.43,727.74L287.43,727.70L288.42,727.66L289.42,727.62L290.42,727.58L291.42,727.54L292.42,727.50L293.42,727.46L294.42,727.42L295.42,727.37L296.42,727.33L297.42,727.28L298.42,727.23L299.42,727.18L300.42,727.13L301.42,727.08L302.42,727.03L303.41,726.97L304.41,726.92L305.41,726.86L306.41,726.81L307.41,726.75L308.41,726.69L309.41,726.63L310.41,726.57L311.41,726.51L312.41,726.45L313.41,726.39L314.41,726.32L315.41,726.26L316.41,726.19L317.40,726.12L318.40,726.05L319.40,725.98L320.40,725.90L321.40,725.83L322.40,725.75L323.40,725.68L324.40,725.60" fill="none" stroke="#ff2222" stroke-width="1.90" stroke-linejoin="round"/>
<circle cx="229.40" cy="726.00" r="2.15" fill="#ff2222"/>
<path d="M35.60,528.40 V740.30 H324.40 V528.40" fill="none" stroke="#3a3a3a" stroke-width="1.1"/>
<g stroke="#3a3a3a" stroke-width="1"><line x1="33.60" y1="740.30" x2="35.60" y2="740.30"/><line x1="33.60" y1="669.67" x2="35.60" y2="669.67"/><line x1="33.60" y1="599.03" x2="35.60" y2="599.03"/><line x1="33.60" y1="528.40" x2="35.60" y2="528.40"/><line x1="324.40" y1="740.30" x2="326.40" y2="740.30"/><line x1="324.40" y1="687.32" x2="326.40" y2="687.32"/><line x1="324.40" y1="634.35" x2="326.40" y2="634.35"/><line x1="324.40" y1="581.38" x2="326.40" y2="581.38"/><line x1="324.40" y1="528.40" x2="326.40" y2="528.40"/><line x1="91.20" y1="740.30" x2="91.20" y2="742.30"/><line x1="150.40" y1="740.30" x2="150.40" y2="742.30"/><line x1="208.80" y1="740.30" x2="208.80" y2="742.30"/><line x1="267.60" y1="740.30" x2="267.60" y2="742.30"/></g>
<g fill="#222222" font-size="10.30"><text x="24.60" y="744.00" text-anchor="middle">0</text><text x="24.60" y="673.37" text-anchor="middle">5</text><text x="24.60" y="602.73" text-anchor="middle">10</text><text x="24.60" y="532.10" text-anchor="middle">15</text><text x="326.40" y="744.30">0</text><text x="326.40" y="691.32">5</text><text x="326.40" y="638.35">10</text><text x="326.40" y="585.38">15</text><text x="326.40" y="532.40">20</text><text x="91.90" y="752.10" text-anchor="middle">150</text><text x="148.80" y="752.10" text-anchor="middle">200</text><text x="208.70" y="752.10" text-anchor="middle">250</text><text x="268.50" y="752.10" text-anchor="middle">300</text><text x="175.10" y="764.90" text-anchor="middle">Predicted PEF</text><line x1="64.00" y1="542.60" x2="87.20" y2="542.60" stroke="#e04e68" stroke-width="1.75"/><line x1="64.00" y1="556.20" x2="87.20" y2="556.20" stroke="#111" stroke-width="1.4" stroke-dasharray="3.5 1.35"/><text x="93.20" y="547.00" font-size="10.1">Estimation</text><text x="93.20" y="560.60" font-size="10.1">95% CI</text><text x="195.00" y="550.50">P for overall = 0.025</text><text x="195.00" y="562.90">P for nonlinear = 0.016</text></g>
<text transform="translate(12.80,635.60) rotate(-90)" text-anchor="middle" font-size="8.85" fill="#222222">OR where the lshap.cutoff.for Predicted PEF is 267.352</text>
<text x="0.80" y="521.80" font-size="15" fill="#111">E</text>
<g fill="#fbf8f9" stroke="#cdcdcd" stroke-width="1"><rect x="380.60" y="732.40" width="15.18" height="7.20"/><rect x="395.78" y="736.40" width="15.18" height="3.20"/><rect x="410.96" y="720.40" width="15.18" height="19.20"/><rect x="426.14" y="722.40" width="15.18" height="17.20"/><rect x="441.32" y="721.40" width="15.18" height="18.20"/><rect x="456.49" y="690.40" width="15.18" height="49.20"/><rect x="471.67" y="697.40" width="15.18" height="42.20"/><rect x="486.85" y="677.40" width="15.18" height="62.20"/><rect x="502.03" y="644.50" width="15.18" height="95.10"/><rect x="517.21" y="658.40" width="15.18" height="81.20"/><rect x="532.39" y="646.60" width="15.18" height="93.00"/><rect x="547.57" y="611.40" width="15.18" height="128.20"/><rect x="562.75" y="624.00" width="15.18" height="115.60"/><rect x="577.93" y="672.40" width="15.18" height="67.20"/><rect x="593.11" y="691.40" width="15.18" height="48.20"/><rect x="608.28" y="697.40" width="15.18" height="42.20"/><rect x="623.46" y="713.60" width="15.18" height="26.00"/><rect x="638.64" y="672.40" width="15.18" height="67.20"/><rect x="653.82" y="672.40" width="15.18" height="67.20"/></g>
<line x1="380.60" y1="709.60" x2="669.00" y2="709.60" stroke="#adadad" stroke-width="1.3" stroke-dasharray="5.6 5.45" stroke-dashoffset="0.00"/>
<path d="M380.60,667.00L381.60,667.66L382.60,668.33L383.60,668.99L384.60,669.65L385.60,670.31L386.60,670.97L387.60,671.63L388.60,672.29L389.60,672.95L390.60,673.61L391.60,674.27L392.60,674.93L393.60,675.58L394.60,676.24L395.60,676.90L396.60,677.55L397.60,678.22L398.60,678.88L399.60,679.54L400.60,680.21L401.60,680.87L402.60,681.54L403.60,682.20L404.60,682.86L405.60,683.52L406.60,684.17L407.60,684.83L408.60,685.48L409.60,686.12L410.60,686.76L411.60,687.39L412.60,688.02L413.60,688.64L414.60,689.25L415.60,689.86L416.60,690.48L417.60,691.09L418.60,691.70L419.60,692.31L420.60,692.92L421.60,693.53L422.60,694.14L423.60,694.74L424.60,695.33L425.60,695.91L426.60,696.49L427.60,697.05L428.60,697.61L429.60,698.15L430.60,698.67L431.60,699.18L432.60,699.67L433.60,700.15L434.60,700.60L435.60,701.04L436.60,701.47L437.60,701.88L438.60,702.27L439.60,702.66L440.60,703.04L441.60,703.41L442.60,703.77L443.60,704.12L444.60,704.46L445.60,704.79L446.60,705.12L447.60,705.44L448.60,705.76L449.60,706.07L450.60,706.38L451.60,706.68L452.60,706.97L453.60,707.26L454.60,707.55L455.60,707.83L456.60,708.10L457.60,708.36L458.60,708.62L459.60,708.88L460.60,709.12L461.60,709.36L462.60,709.60L462.60,709.60L463.60,709.22L464.59,708.84L465.59,708.46L466.59,708.09L467.59,707.71L468.58,707.33L469.58,706.95L470.58,706.56L471.57,706.18L472.57,705.80L473.57,705.42L474.57,705.03L475.56,704.65L476.56,704.27L477.56,703.88L478.55,703.50L479.55,703.11L480.55,702.73L481.54,702.34L482.54,701.95L483.54,701.57L484.54,701.18L485.53,700.79L486.53,700.40L487.53,700.00L488.52,699.61L489.52,699.21L490.52,698.81L491.52,698.41L492.51,698.01L493.51,697.61L494.51,697.22L495.50,696.83L496.50,696.45L497.50,696.07L498.50,695.70L499.49,695.34L500.49,694.99L501.49,694.66L502.48,694.34L503.48,694.02L504.48,693.71L505.48,693.39L506.47,693.07L507.47,692.74L508.47,692.39L509.46,692.02L510.46,691.63L511.46,691.20L512.46,690.73L513.45,690.23L514.45,689.68L515.45,689.08L516.44,688.45L517.44,687.79L518.44,687.10L519.43,686.39L520.43,685.64L521.43,684.87L522.43,684.06L523.42,683.21L524.42,682.34L525.42,681.43L526.41,680.50L527.41,679.55L528.41,678.57L529.41,677.58L530.40,676.58L531.40,675.56L532.40,674.52L533.39,673.45L534.39,672.36L535.39,671.24L536.39,670.07L537.38,668.86L538.38,667.60L539.38,666.28L540.37,664.88L541.37,663.41L542.37,661.87L543.37,660.24L544.36,658.55L545.36,656.79L546.36,654.98L547.35,653.11L548.35,651.20L549.35,649.23L550.34,647.21L551.34,645.11L552.34,642.94L553.34,640.68L554.33,638.37L555.33,636.01L556.33,633.64L557.32,631.27L558.32,628.92L559.32,626.60L560.32,624.31L561.31,622.05L562.31,619.80L563.31,617.57L564.30,615.34L565.30,613.13L566.30,610.93L567.30,608.77L568.29,606.63L569.29,604.51L570.29,602.43L571.28,600.37L572.28,598.34L573.28,596.32L574.28,594.33L575.27,592.36L576.27,590.43L577.27,588.53L578.26,586.68L579.26,584.86L580.26,583.08L581.26,581.34L582.25,579.62L583.25,577.93L584.25,576.27L585.24,574.65L586.24,573.07L587.24,571.54L588.23,570.05L589.23,568.62L590.23,567.24L591.23,565.89L592.22,564.59L593.22,563.33L594.22,562.12L595.21,560.96L596.21,559.87L597.21,558.84L598.21,557.87L599.20,556.96L600.20,556.10L601.20,555.28L602.19,554.49L603.19,553.74L604.19,553.02L605.19,552.32L606.18,551.66L607.18,551.03L608.18,550.41L609.17,549.82L610.17,549.24L611.17,548.68L612.17,548.13L613.16,547.61L614.16,547.12L615.16,546.66L616.15,546.23L617.15,545.84L618.15,545.48L619.14,545.14L620.14,544.81L621.14,544.51L622.14,544.22L623.13,543.95L624.13,543.70L625.13,543.48L626.12,543.29L627.12,543.14L628.12,543.01L629.12,542.90L630.11,542.81L631.11,542.73L632.11,542.65L633.10,542.58L634.10,542.53L635.10,542.48L636.10,542.44L637.09,542.43L638.09,542.42L639.09,542.44L640.08,542.47L641.08,542.52L642.08,542.59L643.08,542.66L644.07,542.74L645.07,542.81L646.07,542.88L647.06,542.94L648.06,542.99L649.06,543.04L650.06,543.08L651.05,543.12L652.05,543.16L653.05,543.20L654.04,543.23L655.04,543.27L656.04,543.30L657.03,543.34L658.03,543.37L659.03,543.40L660.03,543.43L661.02,543.46L662.02,543.48L663.02,543.51L664.01,543.53L665.01,543.55L666.01,543.56L667.01,543.58L668.00,543.59L669.00,543.60L669.00,729.00L668.00,728.91L667.01,728.81L666.01,728.72L665.01,728.63L664.01,728.53L663.02,728.44L662.02,728.35L661.02,728.25L660.03,728.16L659.03,728.06L658.03,727.97L657.03,727.87L656.04,727.78L655.04,727.68L654.04,727.59L653.05,727.49L652.05,727.39L651.05,727.30L650.06,727.20L649.06,727.10L648.06,727.01L647.06,726.91L646.07,726.81L645.07,726.71L644.07,726.61L643.08,726.51L642.08,726.41L641.08,726.31L640.08,726.21L639.09,726.10L638.09,726.00L637.09,725.90L636.10,725.80L635.10,725.70L634.10,725.60L633.10,725.50L632.11,725.40L631.11,725.30L630.11,725.20L629.12,725.11L628.12,725.01L627.12,724.92L626.12,724.82L625.13,724.73L624.13,724.63L623.13,724.54L622.14,724.45L621.14,724.35L620.14,724.26L619.14,724.17L618.15,724.07L617.15,723.98L616.15,723.89L615.16,723.80L614.16,723.72L613.16,723.63L612.17,723.54L611.17,723.46L610.17,723.38L609.17,723.30L608.18,723.22L607.18,723.14L606.18,723.06L605.19,722.99L604.19,722.92L603.19,722.84L602.19,722.77L601.20,722.71L600.20,722.64L599.20,722.57L598.21,722.50L597.21,722.44L596.21,722.37L595.21,722.30L594.22,722.24L593.22,722.17L592.22,722.10L591.23,722.03L590.23,721.96L589.23,721.89L588.23,721.82L587.24,721.74L586.24,721.66L585.24,721.58L584.25,721.50L583.25,721.42L582.25,721.34L581.26,721.26L580.26,721.17L579.26,721.09L578.26,721.01L577.27,720.92L576.27,720.84L575.27,720.76L574.28,720.68L573.28,720.60L572.28,720.52L571.28,720.44L570.29,720.37L569.29,720.29L568.29,720.22L567.30,720.15L566.30,720.09L565.30,720.02L564.30,719.95L563.31,719.89L562.31,719.82L561.31,719.76L560.32,719.70L559.32,719.64L558.32,719.58L557.32,719.52L556.33,719.46L555.33,719.40L554.33,719.34L553.34,719.29L552.34,719.23L551.34,719.18L550.34,719.12L549.35,719.07L548.35,719.02L547.35,718.97L546.36,718.92L545.36,718.87L544.36,718.82L543.37,718.78L542.37,718.73L541.37,718.69L540.37,718.65L539.38,718.60L538.38,718.56L537.38,718.52L536.39,718.47L535.39,718.43L534.39,718.39L533.39,718.35L532.40,718.30L531.40,718.26L530.40,718.22L529.41,718.18L528.41,718.13L527.41,718.09L526.41,718.05L525.42,718.01L524.42,717.98L523.42,717.94L522.43,717.90L521.43,717.86L520.43,717.82L519.43,717.78L518.44,717.74L517.44,717.69L516.44,717.64L515.45,717.59L514.45,717.54L513.45,717.48L512.46,717.42L511.46,717.35L510.46,717.28L509.46,717.19L508.47,717.10L507.47,717.00L506.47,716.90L505.48,716.79L504.48,716.67L503.48,716.55L502.48,716.43L501.49,716.31L500.49,716.18L499.49,716.06L498.50,715.94L497.50,715.81L496.50,715.68L495.50,715.55L494.51,715.42L493.51,715.28L492.51,715.14L491.52,715.00L490.52,714.85L489.52,714.71L488.52,714.55L487.53,714.40L486.53,714.24L485.53,714.08L484.54,713.92L483.54,713.75L482.54,713.59L481.54,713.41L480.55,713.24L479.55,713.06L478.55,712.88L477.56,712.70L476.56,712.51L475.56,712.32L474.57,712.13L473.57,711.94L472.57,711.74L471.57,711.54L470.58,711.33L469.58,711.13L468.58,710.92L467.59,710.70L466.59,710.49L465.59,710.27L464.59,710.05L463.60,709.82L462.60,709.60L462.60,709.60L461.60,709.79L460.60,709.97L459.60,710.16L458.60,710.35L457.60,710.54L456.60,710.73L455.60,710.92L454.60,711.11L453.60,711.30L452.60,711.50L451.60,711.69L450.60,711.88L449.60,712.08L448.60,712.28L447.60,712.48L446.60,712.68L445.60,712.88L444.60,713.08L443.60,713.29L442.60,713.49L441.60,713.69L440.60,713.89L439.60,714.10L438.60,714.30L437.60,714.49L436.60,714.69L435.60,714.88L434.60,715.07L433.60,715.26L432.60,715.45L431.60,715.64L430.60,715.82L429.60,716.00L428.60,716.19L427.60,716.37L426.60,716.55L425.60,716.73L424.60,716.91L423.60,717.09L422.60,717.26L421.60,717.44L420.60,717.62L419.60,717.79L418.60,717.97L417.60,718.14L416.60,718.32L415.60,718.50L414.60,718.67L413.60,718.85L412.60,719.02L411.60,719.20L410.60,719.37L409.60,719.55L408.60,719.73L407.60,719.90L406.60,720.08L405.60,720.25L404.60,720.42L403.60,720.60L402.60,720.77L401.60,720.94L400.60,721.10L399.60,721.27L398.60,721.43L397.60,721.59L396.60,721.75L395.60,721.91L394.60,722.06L393.60,722.21L392.60,722.36L391.60,722.50L390.60,722.65L389.60,722.79L388.60,722.93L387.60,723.07L386.60,723.21L385.60,723.35L384.60,723.48L383.60,723.61L382.60,723.74L381.60,723.87L380.60,724.00Z" fill="rgba(212,112,128,0.17)"/>
<path d="M380.60,706.00L381.60,706.04L382.60,706.08L383.59,706.13L384.59,706.17L385.59,706.21L386.59,706.25L387.59,706.29L388.58,706.34L389.58,706.38L390.58,706.42L391.58,706.46L392.58,706.50L393.57,706.54L394.57,706.58L395.57,706.62L396.57,706.66L397.56,706.70L398.56,706.74L399.56,706.78L400.56,706.82L401.56,706.85L402.55,706.89L403.55,706.93L404.55,706.97L405.55,707.00L406.55,707.04L407.54,707.08L408.54,707.12L409.54,707.16L410.54,707.20L411.54,707.24L412.53,707.29L413.53,707.33L414.53,707.38L415.53,707.43L416.53,707.48L417.52,707.54L418.52,707.59L419.52,707.65L420.52,707.71L421.51,707.78L422.51,707.84L423.51,707.91L424.51,707.97L425.51,708.04L426.50,708.10L427.50,708.17L428.50,708.23L429.50,708.30L430.50,708.36L431.49,708.41L432.49,708.47L433.49,708.52L434.49,708.57L435.49,708.62L436.48,708.67L437.48,708.72L438.48,708.77L439.48,708.81L440.48,708.86L441.47,708.91L442.47,708.96L443.47,709.01L444.47,709.06L445.47,709.11L446.46,709.15L447.46,709.20L448.46,709.24L449.46,709.28L450.45,709.32L451.45,709.36L452.45,709.40L453.45,709.43L454.45,709.46L455.44,709.49L456.44,709.52L457.44,709.54L458.44,709.56L459.44,709.57L460.43,709.59L461.43,709.59L462.43,709.60L463.43,709.59L464.43,709.59L465.42,709.58L466.42,709.57L467.42,709.55L468.42,709.54L469.42,709.51L470.41,709.49L471.41,709.47L472.41,709.44L473.41,709.41L474.40,709.38L475.40,709.34L476.40,709.31L477.40,709.27L478.40,709.24L479.39,709.20L480.39,709.17L481.39,709.13L482.39,709.09L483.39,709.06L484.38,709.02L485.38,708.99L486.38,708.95L487.38,708.92L488.38,708.88L489.37,708.84L490.37,708.80L491.37,708.76L492.37,708.72L493.37,708.68L494.36,708.63L495.36,708.58L496.36,708.53L497.36,708.47L498.36,708.40L499.35,708.34L500.35,708.26L501.35,708.16L502.35,708.05L503.34,707.93L504.34,707.79L505.34,707.65L506.34,707.49L507.34,707.33L508.33,707.17L509.33,707.01L510.33,706.86L511.33,706.71L512.33,706.56L513.32,706.43L514.32,706.30L515.32,706.17L516.32,706.04L517.32,705.90L518.31,705.76L519.31,705.60L520.31,705.42L521.31,705.23L522.31,705.01L523.30,704.78L524.30,704.54L525.30,704.28L526.30,704.02L527.29,703.75L528.29,703.47L529.29,703.20L530.29,702.92L531.29,702.64L532.28,702.36L533.28,702.08L534.28,701.79L535.28,701.50L536.28,701.19L537.27,700.88L538.27,700.56L539.27,700.23L540.27,699.89L541.27,699.53L542.26,699.16L543.26,698.77L544.26,698.37L545.26,697.96L546.26,697.55L547.25,697.13L548.25,696.72L549.25,696.31L550.25,695.90L551.24,695.50L552.24,695.10L553.24,694.70L554.24,694.29L555.24,693.89L556.23,693.49L557.23,693.09L558.23,692.70L559.23,692.30L560.23,691.91L561.22,691.52L562.22,691.12L563.22,690.72L564.22,690.33L565.22,689.94L566.21,689.56L567.21,689.19L568.21,688.83L569.21,688.48L570.21,688.15L571.20,687.82L572.20,687.51L573.20,687.21L574.20,686.91L575.20,686.63L576.19,686.35L577.19,686.09L578.19,685.84L579.19,685.60L580.18,685.37L581.18,685.14L582.18,684.93L583.18,684.72L584.18,684.51L585.17,684.32L586.17,684.14L587.17,683.98L588.17,683.83L589.17,683.71L590.16,683.60L591.16,683.50L592.16,683.41L593.16,683.33L594.16,683.26L595.15,683.19L596.15,683.13L597.15,683.08L598.15,683.04L599.15,683.02L600.14,683.01L601.14,683.01L602.14,683.03L603.14,683.04L604.13,683.07L605.13,683.10L606.13,683.13L607.13,683.17L608.13,683.22L609.12,683.27L610.12,683.33L611.12,683.40L612.12,683.50L613.12,683.62L614.11,683.77L615.11,683.92L616.11,684.09L617.11,684.27L618.11,684.45L619.10,684.64L620.10,684.82L621.10,685.02L622.10,685.21L623.10,685.42L624.09,685.64L625.09,685.86L626.09,686.09L627.09,686.32L628.09,686.55L629.08,686.79L630.08,687.02L631.08,687.25L632.08,687.49L633.07,687.73L634.07,687.96L635.07,688.21L636.07,688.45L637.07,688.69L638.06,688.93L639.06,689.17L640.06,689.42L641.06,689.66L642.06,689.90L643.05,690.15L644.05,690.40L645.05,690.64L646.05,690.88L647.05,691.12L648.04,691.36L649.04,691.58L650.04,691.80L651.04,692.02L652.04,692.23L653.03,692.44L654.03,692.65L655.03,692.85L656.03,693.05L657.02,693.25L658.02,693.45L659.02,693.64L660.02,693.83L661.02,694.02L662.01,694.21L663.01,694.39L664.01,694.56L665.01,694.74L666.01,694.91L667.00,695.08L668.00,695.24L669.00,695.40" fill="none" stroke="#ff2222" stroke-width="1.90" stroke-linejoin="round"/>
<circle cx="462.60" cy="709.60" r="2.15" fill="#ff2222"/>
<path d="M380.60,529.60 V739.60 H669.00 V529.60" fill="none" stroke="#3a3a3a" stroke-width="1.1"/>
<g stroke="#3a3a3a" stroke-width="1"><line x1="378.60" y1="739.60" x2="380.60" y2="739.60"/><line x1="378.60" y1="679.60" x2="380.60" y2="679.60"/><line x1="378.60" y1="619.60" x2="380.60" y2="619.60"/><line x1="378.60" y1="559.60" x2="380.60" y2="559.60"/><line x1="669.00" y1="739.60" x2="671.00" y2="739.60"/><line x1="669.00" y1="687.10" x2="671.00" y2="687.10"/><line x1="669.00" y1="634.60" x2="671.00" y2="634.60"/><line x1="669.00" y1="582.10" x2="671.00" y2="582.10"/><line x1="669.00" y1="529.60" x2="671.00" y2="529.60"/><line x1="414.40" y1="739.60" x2="414.40" y2="741.60"/><line x1="478.50" y1="739.60" x2="478.50" y2="741.60"/><line x1="542.80" y1="739.60" x2="542.80" y2="741.60"/><line x1="607.20" y1="739.60" x2="607.20" y2="741.60"/></g>
<g fill="#222222" font-size="10.30"><text x="370.30" y="743.30" text-anchor="middle">0</text><text x="370.30" y="683.30" text-anchor="middle">2</text><text x="370.30" y="623.30" text-anchor="middle">4</text><text x="370.30" y="563.30" text-anchor="middle">6</text><text x="670.60" y="743.60">0</text><text x="670.60" y="691.10">5</text><text x="670.60" y="638.60">10</text><text x="670.60" y="586.10">15</text><text x="670.60" y="533.60">20</text><text x="414.40" y="751.40" text-anchor="middle">150</text><text x="478.50" y="751.40" text-anchor="middle">200</text><text x="542.80" y="751.40" text-anchor="middle">250</text><text x="607.20" y="751.40" text-anchor="middle">300</text><text x="524.40" y="764.50" text-anchor="middle">Predicted PEF</text><line x1="410.00" y1="542.60" x2="433.20" y2="542.60" stroke="#e04e68" stroke-width="1.75"/><line x1="410.00" y1="556.20" x2="433.20" y2="556.20" stroke="#111" stroke-width="1.4" stroke-dasharray="3.5 1.35"/><text x="439.20" y="547.00" font-size="10.1">Estimation</text><text x="439.20" y="560.60" font-size="10.1">95% CI</text><text x="540.40" y="550.10">P for overall = 0.381</text><text x="540.40" y="562.50">P for nonlinear = 0.216</text></g>
<text transform="translate(359.30,636.40) rotate(-90)" text-anchor="middle" font-size="8.85" fill="#222222">OR where the lshap.cutoff.for Predicted PEF is 187.505</text>
<text x="350.00" y="522.80" font-size="15" fill="#111">F</text>
</svg>
</body></html>
